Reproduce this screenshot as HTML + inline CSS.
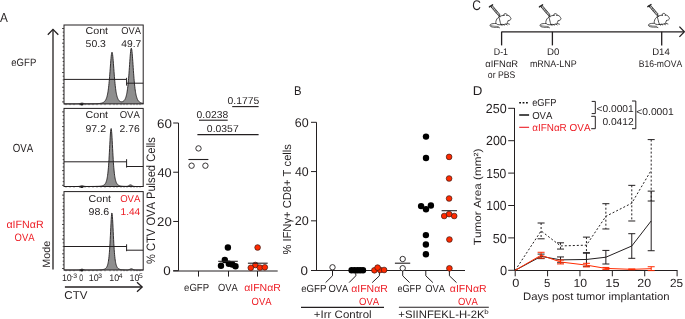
<!DOCTYPE html>
<html><head><meta charset="utf-8"><style>
html,body{margin:0;padding:0;background:#fff;}
svg{display:block;will-change:transform;font-family:"Liberation Sans",sans-serif;font-kerning:none;text-rendering:geometricPrecision;}
text{font-kerning:none;}
</style></head><body>
<svg width="685" height="319" viewBox="0 0 685 319">
<rect width="685" height="319" fill="#fff"/>
<text x="-0.02" y="21.90" font-size="13.20" fill="#231f20" textLength="7.85" lengthAdjust="spacingAndGlyphs">A</text>
<text x="11.29" y="66.10" font-size="10.60" fill="#231f20" textLength="25.01" lengthAdjust="spacingAndGlyphs">eGFP</text>
<text x="12.74" y="152.40" font-size="11.80" fill="#231f20" textLength="20.48" lengthAdjust="spacingAndGlyphs">OVA</text>
<text x="6.45" y="228.20" font-size="10.70" fill="#ed1c24" textLength="37.24" lengthAdjust="spacingAndGlyphs">αIFNαR</text>
<text x="14.55" y="241.30" font-size="10.70" fill="#ed1c24" textLength="19.97" lengthAdjust="spacingAndGlyphs">OVA</text>
<text transform="translate(49.50,267.00) rotate(-90)" x="-0.89" y="0" font-size="10.60" fill="#231f20" textLength="27.07" lengthAdjust="spacingAndGlyphs">Mode</text>
<line x1="53" y1="29.5" x2="53" y2="269.5" stroke="#231f20" stroke-width="1.3"/>
<path d="M47.8,34.8 L53,29.4 L58.3,34.8" stroke="#231f20" stroke-width="1.3" fill="none"/>
<path d="M64.00,103.9 L64.00,103.90 L64.20,103.90 L64.40,103.90 L64.60,103.90 L64.80,103.90 L65.00,103.90 L65.20,103.90 L65.40,103.90 L65.60,103.90 L65.80,103.90 L66.00,103.90 L66.20,103.90 L66.40,103.90 L66.60,103.90 L66.80,103.90 L67.00,103.90 L67.20,103.90 L67.40,103.90 L67.60,103.90 L67.80,103.90 L68.00,103.90 L68.20,103.90 L68.40,103.90 L68.60,103.90 L68.80,103.90 L69.00,103.90 L69.20,103.90 L69.40,103.90 L69.60,103.90 L69.80,103.90 L70.00,103.90 L70.20,103.90 L70.40,103.90 L70.60,103.90 L70.80,103.89 L71.00,103.89 L71.20,103.89 L71.40,103.89 L71.60,103.89 L71.80,103.89 L72.00,103.89 L72.20,103.89 L72.40,103.89 L72.60,103.89 L72.80,103.89 L73.00,103.89 L73.20,103.89 L73.40,103.89 L73.60,103.89 L73.80,103.89 L74.00,103.89 L74.20,103.89 L74.40,103.89 L74.60,103.89 L74.80,103.89 L75.00,103.89 L75.20,103.89 L75.40,103.89 L75.60,103.89 L75.80,103.89 L76.00,103.89 L76.20,103.89 L76.40,103.89 L76.60,103.89 L76.80,103.89 L77.00,103.89 L77.20,103.89 L77.40,103.88 L77.60,103.88 L77.80,103.87 L78.00,103.87 L78.20,103.86 L78.40,103.84 L78.60,103.83 L78.80,103.81 L79.00,103.78 L79.20,103.75 L79.40,103.71 L79.60,103.67 L79.80,103.61 L80.00,103.56 L80.20,103.50 L80.40,103.43 L80.60,103.37 L80.80,103.30 L81.00,103.24 L81.20,103.19 L81.40,103.15 L81.60,103.11 L81.80,103.09 L82.00,103.08 L82.20,103.09 L82.40,103.11 L82.60,103.14 L82.80,103.19 L83.00,103.24 L83.20,103.30 L83.40,103.36 L83.60,103.43 L83.80,103.49 L84.00,103.55 L84.20,103.61 L84.40,103.66 L84.60,103.70 L84.80,103.74 L85.00,103.77 L85.20,103.79 L85.40,103.81 L85.60,103.83 L85.80,103.84 L86.00,103.85 L86.20,103.86 L86.40,103.86 L86.60,103.86 L86.80,103.86 L87.00,103.86 L87.20,103.86 L87.40,103.86 L87.60,103.86 L87.80,103.86 L88.00,103.86 L88.20,103.86 L88.40,103.86 L88.60,103.86 L88.80,103.86 L89.00,103.86 L89.20,103.85 L89.40,103.85 L89.60,103.85 L89.80,103.85 L90.00,103.85 L90.20,103.85 L90.40,103.84 L90.60,103.84 L90.80,103.84 L91.00,103.84 L91.20,103.84 L91.40,103.83 L91.60,103.83 L91.80,103.83 L92.00,103.83 L92.20,103.82 L92.40,103.82 L92.60,103.82 L92.80,103.81 L93.00,103.81 L93.20,103.81 L93.40,103.80 L93.60,103.80 L93.80,103.79 L94.00,103.79 L94.20,103.79 L94.40,103.78 L94.60,103.77 L94.80,103.77 L95.00,103.76 L95.20,103.76 L95.40,103.75 L95.60,103.74 L95.80,103.74 L96.00,103.73 L96.20,103.72 L96.40,103.71 L96.60,103.70 L96.80,103.69 L97.00,103.68 L97.20,103.67 L97.40,103.66 L97.60,103.65 L97.80,103.64 L98.00,103.62 L98.20,103.61 L98.40,103.59 L98.60,103.57 L98.80,103.56 L99.00,103.54 L99.20,103.52 L99.40,103.49 L99.60,103.47 L99.80,103.44 L100.00,103.42 L100.20,103.39 L100.40,103.35 L100.60,103.32 L100.80,103.28 L101.00,103.24 L101.20,103.20 L101.40,103.15 L101.60,103.10 L101.80,103.04 L102.00,102.98 L102.20,102.92 L102.40,102.85 L102.60,102.77 L102.80,102.68 L103.00,102.59 L103.20,102.49 L103.40,102.38 L103.60,102.26 L103.80,102.12 L104.00,101.98 L104.20,101.81 L104.40,101.63 L104.60,101.44 L104.80,101.22 L105.00,100.98 L105.20,100.71 L105.40,100.42 L105.60,100.09 L105.80,99.72 L106.00,99.32 L106.20,98.87 L106.40,98.36 L106.60,97.80 L106.80,97.18 L107.00,96.48 L107.20,95.70 L107.40,94.84 L107.60,93.87 L107.80,92.80 L108.00,91.60 L108.20,90.28 L108.40,88.81 L108.60,87.20 L108.80,85.42 L109.00,83.48 L109.20,81.38 L109.40,79.12 L109.60,76.70 L109.80,74.15 L110.00,71.49 L110.20,68.77 L110.40,66.03 L110.60,63.34 L110.80,60.77 L111.00,58.40 L111.20,56.31 L111.40,54.58 L111.60,53.29 L111.80,52.49 L112.00,52.21 L112.20,52.48 L112.40,53.28 L112.60,54.56 L112.80,56.28 L113.00,58.37 L113.20,60.73 L113.40,63.29 L113.60,65.98 L113.80,68.71 L114.00,71.42 L114.20,74.07 L114.40,76.61 L114.60,79.02 L114.80,81.28 L115.00,83.37 L115.20,85.30 L115.40,87.06 L115.60,88.67 L115.80,90.12 L116.00,91.44 L116.20,92.62 L116.40,93.68 L116.60,94.64 L116.80,95.49 L117.00,96.25 L117.20,96.93 L117.40,97.54 L117.60,98.08 L117.80,98.57 L118.00,99.00 L118.20,99.38 L118.40,99.73 L118.60,100.03 L118.80,100.30 L119.00,100.54 L119.20,100.75 L119.40,100.94 L119.60,101.10 L119.80,101.24 L120.00,101.37 L120.20,101.47 L120.40,101.56 L120.60,101.63 L120.80,101.69 L121.00,101.74 L121.20,101.77 L121.40,101.78 L121.60,101.79 L121.80,101.78 L122.00,101.76 L122.20,101.72 L122.40,101.67 L122.60,101.61 L122.80,101.53 L123.00,101.44 L123.20,101.33 L123.40,101.20 L123.60,101.05 L123.80,100.88 L124.00,100.69 L124.20,100.47 L124.40,100.22 L124.60,99.94 L124.80,99.63 L125.00,99.28 L125.20,98.89 L125.40,98.44 L125.60,97.95 L125.80,97.39 L126.00,96.77 L126.20,96.08 L126.40,95.30 L126.60,94.43 L126.80,93.45 L127.00,92.37 L127.20,91.16 L127.40,89.81 L127.60,88.32 L127.80,86.67 L128.00,84.86 L128.20,82.87 L128.40,80.70 L128.60,78.35 L128.80,75.83 L129.00,73.16 L129.20,70.36 L129.40,67.47 L129.60,64.52 L129.80,61.60 L130.00,58.76 L130.20,56.09 L130.40,53.68 L130.60,51.62 L130.80,50.00 L131.00,48.87 L131.20,48.29 L131.40,48.30 L131.60,48.88 L131.80,50.01 L132.00,51.65 L132.20,53.71 L132.40,56.13 L132.60,58.80 L132.80,61.65 L133.00,64.58 L133.20,67.53 L133.40,70.43 L133.60,73.24 L133.80,75.92 L134.00,78.44 L134.20,80.80 L134.40,82.98 L134.60,84.97 L134.80,86.80 L135.00,88.46 L135.20,89.96 L135.40,91.32 L135.60,92.54 L135.80,93.64 L136.00,94.62 L136.20,95.50 L136.40,96.30 L136.60,97.01 L136.80,97.65 L137.00,98.22 L137.20,98.73 L137.40,99.19 L137.60,99.61 L137.80,99.98 L138.00,100.31 L138.20,100.62 L138.40,100.89 L138.60,101.14 L138.80,101.36 L139.00,101.56 L139.20,101.74 L139.40,101.91 L139.60,102.06 L139.80,102.20 L140.00,102.32 L140.20,102.44 L140.40,102.54 L140.60,102.64 L140.80,102.73 L141.00,102.81 L141.20,102.88 L141.40,102.95 L141.60,103.01 L141.80,103.07 L142.00,103.12 L142.20,103.17 L142.40,103.22 L142.60,103.26 L142.80,103.30 L143.00,103.33 L143.20,103.36 L143.20,103.9 Z" fill="#8e8e8e" stroke="none"/>
<path d="M64.00,103.90 L64.20,103.90 L64.40,103.90 L64.60,103.90 L64.80,103.90 L65.00,103.90 L65.20,103.90 L65.40,103.90 L65.60,103.90 L65.80,103.90 L66.00,103.90 L66.20,103.90 L66.40,103.90 L66.60,103.90 L66.80,103.90 L67.00,103.90 L67.20,103.90 L67.40,103.90 L67.60,103.90 L67.80,103.90 L68.00,103.90 L68.20,103.90 L68.40,103.90 L68.60,103.90 L68.80,103.90 L69.00,103.90 L69.20,103.90 L69.40,103.90 L69.60,103.90 L69.80,103.90 L70.00,103.90 L70.20,103.90 L70.40,103.90 L70.60,103.90 L70.80,103.89 L71.00,103.89 L71.20,103.89 L71.40,103.89 L71.60,103.89 L71.80,103.89 L72.00,103.89 L72.20,103.89 L72.40,103.89 L72.60,103.89 L72.80,103.89 L73.00,103.89 L73.20,103.89 L73.40,103.89 L73.60,103.89 L73.80,103.89 L74.00,103.89 L74.20,103.89 L74.40,103.89 L74.60,103.89 L74.80,103.89 L75.00,103.89 L75.20,103.89 L75.40,103.89 L75.60,103.89 L75.80,103.89 L76.00,103.89 L76.20,103.89 L76.40,103.89 L76.60,103.89 L76.80,103.89 L77.00,103.89 L77.20,103.89 L77.40,103.88 L77.60,103.88 L77.80,103.87 L78.00,103.87 L78.20,103.86 L78.40,103.84 L78.60,103.83 L78.80,103.81 L79.00,103.78 L79.20,103.75 L79.40,103.71 L79.60,103.67 L79.80,103.61 L80.00,103.56 L80.20,103.50 L80.40,103.43 L80.60,103.37 L80.80,103.30 L81.00,103.24 L81.20,103.19 L81.40,103.15 L81.60,103.11 L81.80,103.09 L82.00,103.08 L82.20,103.09 L82.40,103.11 L82.60,103.14 L82.80,103.19 L83.00,103.24 L83.20,103.30 L83.40,103.36 L83.60,103.43 L83.80,103.49 L84.00,103.55 L84.20,103.61 L84.40,103.66 L84.60,103.70 L84.80,103.74 L85.00,103.77 L85.20,103.79 L85.40,103.81 L85.60,103.83 L85.80,103.84 L86.00,103.85 L86.20,103.86 L86.40,103.86 L86.60,103.86 L86.80,103.86 L87.00,103.86 L87.20,103.86 L87.40,103.86 L87.60,103.86 L87.80,103.86 L88.00,103.86 L88.20,103.86 L88.40,103.86 L88.60,103.86 L88.80,103.86 L89.00,103.86 L89.20,103.85 L89.40,103.85 L89.60,103.85 L89.80,103.85 L90.00,103.85 L90.20,103.85 L90.40,103.84 L90.60,103.84 L90.80,103.84 L91.00,103.84 L91.20,103.84 L91.40,103.83 L91.60,103.83 L91.80,103.83 L92.00,103.83 L92.20,103.82 L92.40,103.82 L92.60,103.82 L92.80,103.81 L93.00,103.81 L93.20,103.81 L93.40,103.80 L93.60,103.80 L93.80,103.79 L94.00,103.79 L94.20,103.79 L94.40,103.78 L94.60,103.77 L94.80,103.77 L95.00,103.76 L95.20,103.76 L95.40,103.75 L95.60,103.74 L95.80,103.74 L96.00,103.73 L96.20,103.72 L96.40,103.71 L96.60,103.70 L96.80,103.69 L97.00,103.68 L97.20,103.67 L97.40,103.66 L97.60,103.65 L97.80,103.64 L98.00,103.62 L98.20,103.61 L98.40,103.59 L98.60,103.57 L98.80,103.56 L99.00,103.54 L99.20,103.52 L99.40,103.49 L99.60,103.47 L99.80,103.44 L100.00,103.42 L100.20,103.39 L100.40,103.35 L100.60,103.32 L100.80,103.28 L101.00,103.24 L101.20,103.20 L101.40,103.15 L101.60,103.10 L101.80,103.04 L102.00,102.98 L102.20,102.92 L102.40,102.85 L102.60,102.77 L102.80,102.68 L103.00,102.59 L103.20,102.49 L103.40,102.38 L103.60,102.26 L103.80,102.12 L104.00,101.98 L104.20,101.81 L104.40,101.63 L104.60,101.44 L104.80,101.22 L105.00,100.98 L105.20,100.71 L105.40,100.42 L105.60,100.09 L105.80,99.72 L106.00,99.32 L106.20,98.87 L106.40,98.36 L106.60,97.80 L106.80,97.18 L107.00,96.48 L107.20,95.70 L107.40,94.84 L107.60,93.87 L107.80,92.80 L108.00,91.60 L108.20,90.28 L108.40,88.81 L108.60,87.20 L108.80,85.42 L109.00,83.48 L109.20,81.38 L109.40,79.12 L109.60,76.70 L109.80,74.15 L110.00,71.49 L110.20,68.77 L110.40,66.03 L110.60,63.34 L110.80,60.77 L111.00,58.40 L111.20,56.31 L111.40,54.58 L111.60,53.29 L111.80,52.49 L112.00,52.21 L112.20,52.48 L112.40,53.28 L112.60,54.56 L112.80,56.28 L113.00,58.37 L113.20,60.73 L113.40,63.29 L113.60,65.98 L113.80,68.71 L114.00,71.42 L114.20,74.07 L114.40,76.61 L114.60,79.02 L114.80,81.28 L115.00,83.37 L115.20,85.30 L115.40,87.06 L115.60,88.67 L115.80,90.12 L116.00,91.44 L116.20,92.62 L116.40,93.68 L116.60,94.64 L116.80,95.49 L117.00,96.25 L117.20,96.93 L117.40,97.54 L117.60,98.08 L117.80,98.57 L118.00,99.00 L118.20,99.38 L118.40,99.73 L118.60,100.03 L118.80,100.30 L119.00,100.54 L119.20,100.75 L119.40,100.94 L119.60,101.10 L119.80,101.24 L120.00,101.37 L120.20,101.47 L120.40,101.56 L120.60,101.63 L120.80,101.69 L121.00,101.74 L121.20,101.77 L121.40,101.78 L121.60,101.79 L121.80,101.78 L122.00,101.76 L122.20,101.72 L122.40,101.67 L122.60,101.61 L122.80,101.53 L123.00,101.44 L123.20,101.33 L123.40,101.20 L123.60,101.05 L123.80,100.88 L124.00,100.69 L124.20,100.47 L124.40,100.22 L124.60,99.94 L124.80,99.63 L125.00,99.28 L125.20,98.89 L125.40,98.44 L125.60,97.95 L125.80,97.39 L126.00,96.77 L126.20,96.08 L126.40,95.30 L126.60,94.43 L126.80,93.45 L127.00,92.37 L127.20,91.16 L127.40,89.81 L127.60,88.32 L127.80,86.67 L128.00,84.86 L128.20,82.87 L128.40,80.70 L128.60,78.35 L128.80,75.83 L129.00,73.16 L129.20,70.36 L129.40,67.47 L129.60,64.52 L129.80,61.60 L130.00,58.76 L130.20,56.09 L130.40,53.68 L130.60,51.62 L130.80,50.00 L131.00,48.87 L131.20,48.29 L131.40,48.30 L131.60,48.88 L131.80,50.01 L132.00,51.65 L132.20,53.71 L132.40,56.13 L132.60,58.80 L132.80,61.65 L133.00,64.58 L133.20,67.53 L133.40,70.43 L133.60,73.24 L133.80,75.92 L134.00,78.44 L134.20,80.80 L134.40,82.98 L134.60,84.97 L134.80,86.80 L135.00,88.46 L135.20,89.96 L135.40,91.32 L135.60,92.54 L135.80,93.64 L136.00,94.62 L136.20,95.50 L136.40,96.30 L136.60,97.01 L136.80,97.65 L137.00,98.22 L137.20,98.73 L137.40,99.19 L137.60,99.61 L137.80,99.98 L138.00,100.31 L138.20,100.62 L138.40,100.89 L138.60,101.14 L138.80,101.36 L139.00,101.56 L139.20,101.74 L139.40,101.91 L139.60,102.06 L139.80,102.20 L140.00,102.32 L140.20,102.44 L140.40,102.54 L140.60,102.64 L140.80,102.73 L141.00,102.81 L141.20,102.88 L141.40,102.95 L141.60,103.01 L141.80,103.07 L142.00,103.12 L142.20,103.17 L142.40,103.22 L142.60,103.26 L142.80,103.30 L143.00,103.33 L143.20,103.36" fill="none" stroke="#231f20" stroke-width="0.9"/>
<path d="M64.00,186.5 L64.00,186.50 L64.20,186.50 L64.40,186.50 L64.60,186.50 L64.80,186.50 L65.00,186.50 L65.20,186.50 L65.40,186.50 L65.60,186.50 L65.80,186.50 L66.00,186.50 L66.20,186.50 L66.40,186.50 L66.60,186.50 L66.80,186.50 L67.00,186.50 L67.20,186.50 L67.40,186.50 L67.60,186.50 L67.80,186.50 L68.00,186.50 L68.20,186.50 L68.40,186.50 L68.60,186.50 L68.80,186.50 L69.00,186.50 L69.20,186.50 L69.40,186.50 L69.60,186.50 L69.80,186.50 L70.00,186.50 L70.20,186.50 L70.40,186.50 L70.60,186.50 L70.80,186.50 L71.00,186.50 L71.20,186.50 L71.40,186.50 L71.60,186.50 L71.80,186.50 L72.00,186.50 L72.20,186.50 L72.40,186.50 L72.60,186.50 L72.80,186.50 L73.00,186.50 L73.20,186.50 L73.40,186.50 L73.60,186.50 L73.80,186.50 L74.00,186.50 L74.20,186.50 L74.40,186.50 L74.60,186.50 L74.80,186.50 L75.00,186.50 L75.20,186.50 L75.40,186.50 L75.60,186.50 L75.80,186.50 L76.00,186.50 L76.20,186.50 L76.40,186.50 L76.60,186.50 L76.80,186.49 L77.00,186.49 L77.20,186.49 L77.40,186.49 L77.60,186.48 L77.80,186.48 L78.00,186.47 L78.20,186.46 L78.40,186.45 L78.60,186.43 L78.80,186.41 L79.00,186.39 L79.20,186.35 L79.40,186.32 L79.60,186.27 L79.80,186.22 L80.00,186.17 L80.20,186.10 L80.40,186.04 L80.60,185.98 L80.80,185.91 L81.00,185.85 L81.20,185.80 L81.40,185.75 L81.60,185.72 L81.80,185.70 L82.00,185.69 L82.20,185.70 L82.40,185.72 L82.60,185.75 L82.80,185.80 L83.00,185.85 L83.20,185.91 L83.40,185.97 L83.60,186.04 L83.80,186.10 L84.00,186.16 L84.20,186.22 L84.40,186.27 L84.60,186.31 L84.80,186.35 L85.00,186.38 L85.20,186.41 L85.40,186.43 L85.60,186.44 L85.80,186.45 L86.00,186.46 L86.20,186.47 L86.40,186.48 L86.60,186.48 L86.80,186.48 L87.00,186.48 L87.20,186.48 L87.40,186.48 L87.60,186.48 L87.80,186.48 L88.00,186.48 L88.20,186.48 L88.40,186.48 L88.60,186.48 L88.80,186.48 L89.00,186.48 L89.20,186.48 L89.40,186.48 L89.60,186.48 L89.80,186.48 L90.00,186.47 L90.20,186.47 L90.40,186.47 L90.60,186.47 L90.80,186.47 L91.00,186.47 L91.20,186.47 L91.40,186.47 L91.60,186.46 L91.80,186.46 L92.00,186.46 L92.20,186.46 L92.40,186.46 L92.60,186.46 L92.80,186.45 L93.00,186.45 L93.20,186.45 L93.40,186.45 L93.60,186.45 L93.80,186.44 L94.00,186.44 L94.20,186.44 L94.40,186.44 L94.60,186.43 L94.80,186.43 L95.00,186.43 L95.20,186.42 L95.40,186.42 L95.60,186.41 L95.80,186.41 L96.00,186.41 L96.20,186.40 L96.40,186.39 L96.60,186.39 L96.80,186.38 L97.00,186.38 L97.20,186.37 L97.40,186.36 L97.60,186.35 L97.80,186.35 L98.00,186.34 L98.20,186.33 L98.40,186.32 L98.60,186.31 L98.80,186.29 L99.00,186.28 L99.20,186.27 L99.40,186.25 L99.60,186.23 L99.80,186.22 L100.00,186.20 L100.20,186.18 L100.40,186.15 L100.60,186.13 L100.80,186.10 L101.00,186.07 L101.20,186.04 L101.40,186.00 L101.60,185.96 L101.80,185.92 L102.00,185.87 L102.20,185.82 L102.40,185.76 L102.60,185.70 L102.80,185.63 L103.00,185.55 L103.20,185.47 L103.40,185.37 L103.60,185.27 L103.80,185.15 L104.00,185.01 L104.20,184.86 L104.40,184.70 L104.60,184.51 L104.80,184.30 L105.00,184.06 L105.20,183.79 L105.40,183.48 L105.60,183.13 L105.80,182.73 L106.00,182.28 L106.20,181.76 L106.40,181.17 L106.60,180.49 L106.80,179.72 L107.00,178.83 L107.20,177.80 L107.40,176.63 L107.60,175.29 L107.80,173.75 L108.00,172.00 L108.20,170.00 L108.40,167.75 L108.60,165.21 L108.80,162.37 L109.00,159.25 L109.20,155.85 L109.40,152.22 L109.60,148.42 L109.80,144.55 L110.00,140.75 L110.20,137.17 L110.40,133.99 L110.60,131.40 L110.80,129.57 L111.00,128.62 L111.20,128.62 L111.40,129.57 L111.60,131.40 L111.80,133.99 L112.00,137.17 L112.20,140.75 L112.40,144.55 L112.60,148.42 L112.80,152.22 L113.00,155.85 L113.20,159.25 L113.40,162.37 L113.60,165.21 L113.80,167.75 L114.00,170.00 L114.20,172.00 L114.40,173.75 L114.60,175.29 L114.80,176.63 L115.00,177.80 L115.20,178.83 L115.40,179.72 L115.60,180.49 L115.80,181.17 L116.00,181.76 L116.20,182.28 L116.40,182.73 L116.60,183.13 L116.80,183.48 L117.00,183.79 L117.20,184.06 L117.40,184.30 L117.60,184.51 L117.80,184.70 L118.00,184.86 L118.20,185.01 L118.40,185.15 L118.60,185.27 L118.80,185.37 L119.00,185.47 L119.20,185.55 L119.40,185.63 L119.60,185.70 L119.80,185.76 L120.00,185.82 L120.20,185.87 L120.40,185.92 L120.60,185.96 L120.80,186.00 L121.00,186.04 L121.20,186.07 L121.40,186.10 L121.60,186.13 L121.80,186.15 L122.00,186.18 L122.20,186.20 L122.40,186.22 L122.60,186.23 L122.80,186.25 L123.00,186.27 L123.20,186.28 L123.40,186.29 L123.60,186.31 L123.80,186.32 L124.00,186.33 L124.20,186.34 L124.40,186.35 L124.60,186.35 L124.80,186.36 L125.00,186.37 L125.20,186.37 L125.40,186.38 L125.60,186.38 L125.80,186.38 L126.00,186.38 L126.20,186.38 L126.40,186.37 L126.60,186.36 L126.80,186.34 L127.00,186.32 L127.20,186.28 L127.40,186.24 L127.60,186.19 L127.80,186.12 L128.00,186.04 L128.20,185.95 L128.40,185.84 L128.60,185.73 L128.80,185.61 L129.00,185.48 L129.20,185.35 L129.40,185.23 L129.60,185.12 L129.80,185.02 L130.00,184.95 L130.20,184.89 L130.40,184.87 L130.60,184.87 L130.80,184.90 L131.00,184.95 L131.20,185.03 L131.40,185.13 L131.60,185.25 L131.80,185.37 L132.00,185.50 L132.20,185.63 L132.40,185.76 L132.60,185.88 L132.80,185.98 L133.00,186.08 L133.20,186.16 L133.40,186.23 L133.60,186.29 L133.80,186.34 L134.00,186.38 L134.20,186.41 L134.40,186.43 L134.60,186.44 L134.80,186.46 L135.00,186.47 L135.20,186.47 L135.40,186.48 L135.60,186.48 L135.80,186.48 L136.00,186.48 L136.20,186.49 L136.40,186.49 L136.60,186.49 L136.80,186.49 L137.00,186.49 L137.20,186.49 L137.40,186.49 L137.60,186.49 L137.80,186.49 L138.00,186.49 L138.20,186.49 L138.40,186.49 L138.60,186.49 L138.80,186.49 L139.00,186.49 L139.20,186.49 L139.40,186.49 L139.60,186.49 L139.80,186.49 L140.00,186.49 L140.20,186.49 L140.40,186.49 L140.60,186.49 L140.80,186.49 L141.00,186.49 L141.20,186.49 L141.40,186.49 L141.60,186.49 L141.80,186.49 L142.00,186.49 L142.20,186.49 L142.40,186.49 L142.60,186.49 L142.80,186.49 L143.00,186.49 L143.20,186.50 L143.20,186.5 Z" fill="#8e8e8e" stroke="none"/>
<path d="M64.00,186.50 L64.20,186.50 L64.40,186.50 L64.60,186.50 L64.80,186.50 L65.00,186.50 L65.20,186.50 L65.40,186.50 L65.60,186.50 L65.80,186.50 L66.00,186.50 L66.20,186.50 L66.40,186.50 L66.60,186.50 L66.80,186.50 L67.00,186.50 L67.20,186.50 L67.40,186.50 L67.60,186.50 L67.80,186.50 L68.00,186.50 L68.20,186.50 L68.40,186.50 L68.60,186.50 L68.80,186.50 L69.00,186.50 L69.20,186.50 L69.40,186.50 L69.60,186.50 L69.80,186.50 L70.00,186.50 L70.20,186.50 L70.40,186.50 L70.60,186.50 L70.80,186.50 L71.00,186.50 L71.20,186.50 L71.40,186.50 L71.60,186.50 L71.80,186.50 L72.00,186.50 L72.20,186.50 L72.40,186.50 L72.60,186.50 L72.80,186.50 L73.00,186.50 L73.20,186.50 L73.40,186.50 L73.60,186.50 L73.80,186.50 L74.00,186.50 L74.20,186.50 L74.40,186.50 L74.60,186.50 L74.80,186.50 L75.00,186.50 L75.20,186.50 L75.40,186.50 L75.60,186.50 L75.80,186.50 L76.00,186.50 L76.20,186.50 L76.40,186.50 L76.60,186.50 L76.80,186.49 L77.00,186.49 L77.20,186.49 L77.40,186.49 L77.60,186.48 L77.80,186.48 L78.00,186.47 L78.20,186.46 L78.40,186.45 L78.60,186.43 L78.80,186.41 L79.00,186.39 L79.20,186.35 L79.40,186.32 L79.60,186.27 L79.80,186.22 L80.00,186.17 L80.20,186.10 L80.40,186.04 L80.60,185.98 L80.80,185.91 L81.00,185.85 L81.20,185.80 L81.40,185.75 L81.60,185.72 L81.80,185.70 L82.00,185.69 L82.20,185.70 L82.40,185.72 L82.60,185.75 L82.80,185.80 L83.00,185.85 L83.20,185.91 L83.40,185.97 L83.60,186.04 L83.80,186.10 L84.00,186.16 L84.20,186.22 L84.40,186.27 L84.60,186.31 L84.80,186.35 L85.00,186.38 L85.20,186.41 L85.40,186.43 L85.60,186.44 L85.80,186.45 L86.00,186.46 L86.20,186.47 L86.40,186.48 L86.60,186.48 L86.80,186.48 L87.00,186.48 L87.20,186.48 L87.40,186.48 L87.60,186.48 L87.80,186.48 L88.00,186.48 L88.20,186.48 L88.40,186.48 L88.60,186.48 L88.80,186.48 L89.00,186.48 L89.20,186.48 L89.40,186.48 L89.60,186.48 L89.80,186.48 L90.00,186.47 L90.20,186.47 L90.40,186.47 L90.60,186.47 L90.80,186.47 L91.00,186.47 L91.20,186.47 L91.40,186.47 L91.60,186.46 L91.80,186.46 L92.00,186.46 L92.20,186.46 L92.40,186.46 L92.60,186.46 L92.80,186.45 L93.00,186.45 L93.20,186.45 L93.40,186.45 L93.60,186.45 L93.80,186.44 L94.00,186.44 L94.20,186.44 L94.40,186.44 L94.60,186.43 L94.80,186.43 L95.00,186.43 L95.20,186.42 L95.40,186.42 L95.60,186.41 L95.80,186.41 L96.00,186.41 L96.20,186.40 L96.40,186.39 L96.60,186.39 L96.80,186.38 L97.00,186.38 L97.20,186.37 L97.40,186.36 L97.60,186.35 L97.80,186.35 L98.00,186.34 L98.20,186.33 L98.40,186.32 L98.60,186.31 L98.80,186.29 L99.00,186.28 L99.20,186.27 L99.40,186.25 L99.60,186.23 L99.80,186.22 L100.00,186.20 L100.20,186.18 L100.40,186.15 L100.60,186.13 L100.80,186.10 L101.00,186.07 L101.20,186.04 L101.40,186.00 L101.60,185.96 L101.80,185.92 L102.00,185.87 L102.20,185.82 L102.40,185.76 L102.60,185.70 L102.80,185.63 L103.00,185.55 L103.20,185.47 L103.40,185.37 L103.60,185.27 L103.80,185.15 L104.00,185.01 L104.20,184.86 L104.40,184.70 L104.60,184.51 L104.80,184.30 L105.00,184.06 L105.20,183.79 L105.40,183.48 L105.60,183.13 L105.80,182.73 L106.00,182.28 L106.20,181.76 L106.40,181.17 L106.60,180.49 L106.80,179.72 L107.00,178.83 L107.20,177.80 L107.40,176.63 L107.60,175.29 L107.80,173.75 L108.00,172.00 L108.20,170.00 L108.40,167.75 L108.60,165.21 L108.80,162.37 L109.00,159.25 L109.20,155.85 L109.40,152.22 L109.60,148.42 L109.80,144.55 L110.00,140.75 L110.20,137.17 L110.40,133.99 L110.60,131.40 L110.80,129.57 L111.00,128.62 L111.20,128.62 L111.40,129.57 L111.60,131.40 L111.80,133.99 L112.00,137.17 L112.20,140.75 L112.40,144.55 L112.60,148.42 L112.80,152.22 L113.00,155.85 L113.20,159.25 L113.40,162.37 L113.60,165.21 L113.80,167.75 L114.00,170.00 L114.20,172.00 L114.40,173.75 L114.60,175.29 L114.80,176.63 L115.00,177.80 L115.20,178.83 L115.40,179.72 L115.60,180.49 L115.80,181.17 L116.00,181.76 L116.20,182.28 L116.40,182.73 L116.60,183.13 L116.80,183.48 L117.00,183.79 L117.20,184.06 L117.40,184.30 L117.60,184.51 L117.80,184.70 L118.00,184.86 L118.20,185.01 L118.40,185.15 L118.60,185.27 L118.80,185.37 L119.00,185.47 L119.20,185.55 L119.40,185.63 L119.60,185.70 L119.80,185.76 L120.00,185.82 L120.20,185.87 L120.40,185.92 L120.60,185.96 L120.80,186.00 L121.00,186.04 L121.20,186.07 L121.40,186.10 L121.60,186.13 L121.80,186.15 L122.00,186.18 L122.20,186.20 L122.40,186.22 L122.60,186.23 L122.80,186.25 L123.00,186.27 L123.20,186.28 L123.40,186.29 L123.60,186.31 L123.80,186.32 L124.00,186.33 L124.20,186.34 L124.40,186.35 L124.60,186.35 L124.80,186.36 L125.00,186.37 L125.20,186.37 L125.40,186.38 L125.60,186.38 L125.80,186.38 L126.00,186.38 L126.20,186.38 L126.40,186.37 L126.60,186.36 L126.80,186.34 L127.00,186.32 L127.20,186.28 L127.40,186.24 L127.60,186.19 L127.80,186.12 L128.00,186.04 L128.20,185.95 L128.40,185.84 L128.60,185.73 L128.80,185.61 L129.00,185.48 L129.20,185.35 L129.40,185.23 L129.60,185.12 L129.80,185.02 L130.00,184.95 L130.20,184.89 L130.40,184.87 L130.60,184.87 L130.80,184.90 L131.00,184.95 L131.20,185.03 L131.40,185.13 L131.60,185.25 L131.80,185.37 L132.00,185.50 L132.20,185.63 L132.40,185.76 L132.60,185.88 L132.80,185.98 L133.00,186.08 L133.20,186.16 L133.40,186.23 L133.60,186.29 L133.80,186.34 L134.00,186.38 L134.20,186.41 L134.40,186.43 L134.60,186.44 L134.80,186.46 L135.00,186.47 L135.20,186.47 L135.40,186.48 L135.60,186.48 L135.80,186.48 L136.00,186.48 L136.20,186.49 L136.40,186.49 L136.60,186.49 L136.80,186.49 L137.00,186.49 L137.20,186.49 L137.40,186.49 L137.60,186.49 L137.80,186.49 L138.00,186.49 L138.20,186.49 L138.40,186.49 L138.60,186.49 L138.80,186.49 L139.00,186.49 L139.20,186.49 L139.40,186.49 L139.60,186.49 L139.80,186.49 L140.00,186.49 L140.20,186.49 L140.40,186.49 L140.60,186.49 L140.80,186.49 L141.00,186.49 L141.20,186.49 L141.40,186.49 L141.60,186.49 L141.80,186.49 L142.00,186.49 L142.20,186.49 L142.40,186.49 L142.60,186.49 L142.80,186.49 L143.00,186.49 L143.20,186.50" fill="none" stroke="#231f20" stroke-width="0.9"/>
<path d="M64.00,270.0 L64.00,270.00 L64.20,270.00 L64.40,270.00 L64.60,270.00 L64.80,270.00 L65.00,270.00 L65.20,270.00 L65.40,270.00 L65.60,270.00 L65.80,270.00 L66.00,270.00 L66.20,270.00 L66.40,270.00 L66.60,270.00 L66.80,270.00 L67.00,270.00 L67.20,270.00 L67.40,270.00 L67.60,270.00 L67.80,270.00 L68.00,270.00 L68.20,270.00 L68.40,270.00 L68.60,270.00 L68.80,270.00 L69.00,270.00 L69.20,270.00 L69.40,270.00 L69.60,270.00 L69.80,270.00 L70.00,270.00 L70.20,270.00 L70.40,270.00 L70.60,270.00 L70.80,270.00 L71.00,270.00 L71.20,270.00 L71.40,270.00 L71.60,270.00 L71.80,270.00 L72.00,270.00 L72.20,270.00 L72.40,270.00 L72.60,270.00 L72.80,270.00 L73.00,270.00 L73.20,270.00 L73.40,270.00 L73.60,270.00 L73.80,270.00 L74.00,270.00 L74.20,270.00 L74.40,270.00 L74.60,270.00 L74.80,270.00 L75.00,270.00 L75.20,270.00 L75.40,270.00 L75.60,270.00 L75.80,270.00 L76.00,270.00 L76.20,270.00 L76.40,270.00 L76.60,270.00 L76.80,270.00 L77.00,269.99 L77.20,269.99 L77.40,269.99 L77.60,269.99 L77.80,269.98 L78.00,269.97 L78.20,269.96 L78.40,269.95 L78.60,269.94 L78.80,269.91 L79.00,269.89 L79.20,269.86 L79.40,269.82 L79.60,269.77 L79.80,269.72 L80.00,269.67 L80.20,269.61 L80.40,269.54 L80.60,269.48 L80.80,269.42 L81.00,269.36 L81.20,269.30 L81.40,269.26 L81.60,269.22 L81.80,269.20 L82.00,269.20 L82.20,269.20 L82.40,269.22 L82.60,269.26 L82.80,269.30 L83.00,269.35 L83.20,269.41 L83.40,269.48 L83.60,269.54 L83.80,269.61 L84.00,269.67 L84.20,269.72 L84.40,269.77 L84.60,269.82 L84.80,269.85 L85.00,269.89 L85.20,269.91 L85.40,269.93 L85.60,269.95 L85.80,269.96 L86.00,269.97 L86.20,269.98 L86.40,269.98 L86.60,269.98 L86.80,269.99 L87.00,269.99 L87.20,269.99 L87.40,269.99 L87.60,269.99 L87.80,269.99 L88.00,269.99 L88.20,269.99 L88.40,269.99 L88.60,269.99 L88.80,269.99 L89.00,269.99 L89.20,269.99 L89.40,269.99 L89.60,269.99 L89.80,269.99 L90.00,269.99 L90.20,269.98 L90.40,269.98 L90.60,269.98 L90.80,269.98 L91.00,269.98 L91.20,269.98 L91.40,269.98 L91.60,269.98 L91.80,269.98 L92.00,269.98 L92.20,269.98 L92.40,269.98 L92.60,269.98 L92.80,269.97 L93.00,269.97 L93.20,269.97 L93.40,269.97 L93.60,269.97 L93.80,269.97 L94.00,269.97 L94.20,269.97 L94.40,269.96 L94.60,269.96 L94.80,269.96 L95.00,269.96 L95.20,269.96 L95.40,269.96 L95.60,269.95 L95.80,269.95 L96.00,269.95 L96.20,269.95 L96.40,269.94 L96.60,269.94 L96.80,269.94 L97.00,269.93 L97.20,269.93 L97.40,269.93 L97.60,269.92 L97.80,269.92 L98.00,269.91 L98.20,269.91 L98.40,269.90 L98.60,269.90 L98.80,269.89 L99.00,269.88 L99.20,269.88 L99.40,269.87 L99.60,269.86 L99.80,269.85 L100.00,269.84 L100.20,269.83 L100.40,269.82 L100.60,269.81 L100.80,269.80 L101.00,269.78 L101.20,269.77 L101.40,269.75 L101.60,269.73 L101.80,269.71 L102.00,269.69 L102.20,269.66 L102.40,269.64 L102.60,269.61 L102.80,269.57 L103.00,269.54 L103.20,269.50 L103.40,269.45 L103.60,269.40 L103.80,269.35 L104.00,269.29 L104.20,269.22 L104.40,269.15 L104.60,269.06 L104.80,268.97 L105.00,268.86 L105.20,268.74 L105.40,268.60 L105.60,268.45 L105.80,268.27 L106.00,268.07 L106.20,267.85 L106.40,267.59 L106.60,267.29 L106.80,266.94 L107.00,266.55 L107.20,266.09 L107.40,265.56 L107.60,264.95 L107.80,264.23 L108.00,263.41 L108.20,262.44 L108.40,261.32 L108.60,260.01 L108.80,258.49 L109.00,256.73 L109.20,254.70 L109.40,252.35 L109.60,249.68 L109.80,246.65 L110.00,243.28 L110.20,239.57 L110.40,235.59 L110.60,231.42 L110.80,227.22 L111.00,223.18 L111.20,219.51 L111.40,216.47 L111.60,214.29 L111.80,213.15 L112.00,213.15 L112.20,214.29 L112.40,216.47 L112.60,219.51 L112.80,223.18 L113.00,227.22 L113.20,231.42 L113.40,235.59 L113.60,239.57 L113.80,243.28 L114.00,246.65 L114.20,249.68 L114.40,252.35 L114.60,254.70 L114.80,256.73 L115.00,258.49 L115.20,260.01 L115.40,261.32 L115.60,262.44 L115.80,263.41 L116.00,264.23 L116.20,264.95 L116.40,265.56 L116.60,266.09 L116.80,266.55 L117.00,266.94 L117.20,267.29 L117.40,267.59 L117.60,267.85 L117.80,268.07 L118.00,268.27 L118.20,268.45 L118.40,268.60 L118.60,268.74 L118.80,268.86 L119.00,268.97 L119.20,269.06 L119.40,269.15 L119.60,269.22 L119.80,269.29 L120.00,269.35 L120.20,269.40 L120.40,269.45 L120.60,269.50 L120.80,269.54 L121.00,269.57 L121.20,269.61 L121.40,269.64 L121.60,269.66 L121.80,269.69 L122.00,269.71 L122.20,269.73 L122.40,269.75 L122.60,269.77 L122.80,269.78 L123.00,269.80 L123.20,269.81 L123.40,269.82 L123.60,269.83 L123.80,269.84 L124.00,269.85 L124.20,269.86 L124.40,269.87 L124.60,269.88 L124.80,269.88 L125.00,269.89 L125.20,269.90 L125.40,269.90 L125.60,269.91 L125.80,269.91 L126.00,269.92 L126.20,269.92 L126.40,269.92 L126.60,269.92 L126.80,269.92 L127.00,269.92 L127.20,269.92 L127.40,269.91 L127.60,269.90 L127.80,269.88 L128.00,269.86 L128.20,269.83 L128.40,269.79 L128.60,269.75 L128.80,269.69 L129.00,269.63 L129.20,269.55 L129.40,269.47 L129.60,269.38 L129.80,269.29 L130.00,269.19 L130.20,269.10 L130.40,269.01 L130.60,268.93 L130.80,268.87 L131.00,268.82 L131.20,268.79 L131.40,268.78 L131.60,268.79 L131.80,268.82 L132.00,268.87 L132.20,268.94 L132.40,269.02 L132.60,269.11 L132.80,269.21 L133.00,269.30 L133.20,269.40 L133.40,269.49 L133.60,269.58 L133.80,269.65 L134.00,269.72 L134.20,269.78 L134.40,269.82 L134.60,269.86 L134.80,269.90 L135.00,269.92 L135.20,269.94 L135.40,269.95 L135.60,269.97 L135.80,269.97 L136.00,269.98 L136.20,269.98 L136.40,269.99 L136.60,269.99 L136.80,269.99 L137.00,269.99 L137.20,269.99 L137.40,269.99 L137.60,269.99 L137.80,269.99 L138.00,269.99 L138.20,269.99 L138.40,269.99 L138.60,269.99 L138.80,269.99 L139.00,269.99 L139.20,269.99 L139.40,269.99 L139.60,269.99 L139.80,269.99 L140.00,269.99 L140.20,269.99 L140.40,269.99 L140.60,269.99 L140.80,270.00 L141.00,270.00 L141.20,270.00 L141.40,270.00 L141.60,270.00 L141.80,270.00 L142.00,270.00 L142.20,270.00 L142.40,270.00 L142.60,270.00 L142.80,270.00 L143.00,270.00 L143.20,270.00 L143.20,270.0 Z" fill="#8e8e8e" stroke="none"/>
<path d="M64.00,270.00 L64.20,270.00 L64.40,270.00 L64.60,270.00 L64.80,270.00 L65.00,270.00 L65.20,270.00 L65.40,270.00 L65.60,270.00 L65.80,270.00 L66.00,270.00 L66.20,270.00 L66.40,270.00 L66.60,270.00 L66.80,270.00 L67.00,270.00 L67.20,270.00 L67.40,270.00 L67.60,270.00 L67.80,270.00 L68.00,270.00 L68.20,270.00 L68.40,270.00 L68.60,270.00 L68.80,270.00 L69.00,270.00 L69.20,270.00 L69.40,270.00 L69.60,270.00 L69.80,270.00 L70.00,270.00 L70.20,270.00 L70.40,270.00 L70.60,270.00 L70.80,270.00 L71.00,270.00 L71.20,270.00 L71.40,270.00 L71.60,270.00 L71.80,270.00 L72.00,270.00 L72.20,270.00 L72.40,270.00 L72.60,270.00 L72.80,270.00 L73.00,270.00 L73.20,270.00 L73.40,270.00 L73.60,270.00 L73.80,270.00 L74.00,270.00 L74.20,270.00 L74.40,270.00 L74.60,270.00 L74.80,270.00 L75.00,270.00 L75.20,270.00 L75.40,270.00 L75.60,270.00 L75.80,270.00 L76.00,270.00 L76.20,270.00 L76.40,270.00 L76.60,270.00 L76.80,270.00 L77.00,269.99 L77.20,269.99 L77.40,269.99 L77.60,269.99 L77.80,269.98 L78.00,269.97 L78.20,269.96 L78.40,269.95 L78.60,269.94 L78.80,269.91 L79.00,269.89 L79.20,269.86 L79.40,269.82 L79.60,269.77 L79.80,269.72 L80.00,269.67 L80.20,269.61 L80.40,269.54 L80.60,269.48 L80.80,269.42 L81.00,269.36 L81.20,269.30 L81.40,269.26 L81.60,269.22 L81.80,269.20 L82.00,269.20 L82.20,269.20 L82.40,269.22 L82.60,269.26 L82.80,269.30 L83.00,269.35 L83.20,269.41 L83.40,269.48 L83.60,269.54 L83.80,269.61 L84.00,269.67 L84.20,269.72 L84.40,269.77 L84.60,269.82 L84.80,269.85 L85.00,269.89 L85.20,269.91 L85.40,269.93 L85.60,269.95 L85.80,269.96 L86.00,269.97 L86.20,269.98 L86.40,269.98 L86.60,269.98 L86.80,269.99 L87.00,269.99 L87.20,269.99 L87.40,269.99 L87.60,269.99 L87.80,269.99 L88.00,269.99 L88.20,269.99 L88.40,269.99 L88.60,269.99 L88.80,269.99 L89.00,269.99 L89.20,269.99 L89.40,269.99 L89.60,269.99 L89.80,269.99 L90.00,269.99 L90.20,269.98 L90.40,269.98 L90.60,269.98 L90.80,269.98 L91.00,269.98 L91.20,269.98 L91.40,269.98 L91.60,269.98 L91.80,269.98 L92.00,269.98 L92.20,269.98 L92.40,269.98 L92.60,269.98 L92.80,269.97 L93.00,269.97 L93.20,269.97 L93.40,269.97 L93.60,269.97 L93.80,269.97 L94.00,269.97 L94.20,269.97 L94.40,269.96 L94.60,269.96 L94.80,269.96 L95.00,269.96 L95.20,269.96 L95.40,269.96 L95.60,269.95 L95.80,269.95 L96.00,269.95 L96.20,269.95 L96.40,269.94 L96.60,269.94 L96.80,269.94 L97.00,269.93 L97.20,269.93 L97.40,269.93 L97.60,269.92 L97.80,269.92 L98.00,269.91 L98.20,269.91 L98.40,269.90 L98.60,269.90 L98.80,269.89 L99.00,269.88 L99.20,269.88 L99.40,269.87 L99.60,269.86 L99.80,269.85 L100.00,269.84 L100.20,269.83 L100.40,269.82 L100.60,269.81 L100.80,269.80 L101.00,269.78 L101.20,269.77 L101.40,269.75 L101.60,269.73 L101.80,269.71 L102.00,269.69 L102.20,269.66 L102.40,269.64 L102.60,269.61 L102.80,269.57 L103.00,269.54 L103.20,269.50 L103.40,269.45 L103.60,269.40 L103.80,269.35 L104.00,269.29 L104.20,269.22 L104.40,269.15 L104.60,269.06 L104.80,268.97 L105.00,268.86 L105.20,268.74 L105.40,268.60 L105.60,268.45 L105.80,268.27 L106.00,268.07 L106.20,267.85 L106.40,267.59 L106.60,267.29 L106.80,266.94 L107.00,266.55 L107.20,266.09 L107.40,265.56 L107.60,264.95 L107.80,264.23 L108.00,263.41 L108.20,262.44 L108.40,261.32 L108.60,260.01 L108.80,258.49 L109.00,256.73 L109.20,254.70 L109.40,252.35 L109.60,249.68 L109.80,246.65 L110.00,243.28 L110.20,239.57 L110.40,235.59 L110.60,231.42 L110.80,227.22 L111.00,223.18 L111.20,219.51 L111.40,216.47 L111.60,214.29 L111.80,213.15 L112.00,213.15 L112.20,214.29 L112.40,216.47 L112.60,219.51 L112.80,223.18 L113.00,227.22 L113.20,231.42 L113.40,235.59 L113.60,239.57 L113.80,243.28 L114.00,246.65 L114.20,249.68 L114.40,252.35 L114.60,254.70 L114.80,256.73 L115.00,258.49 L115.20,260.01 L115.40,261.32 L115.60,262.44 L115.80,263.41 L116.00,264.23 L116.20,264.95 L116.40,265.56 L116.60,266.09 L116.80,266.55 L117.00,266.94 L117.20,267.29 L117.40,267.59 L117.60,267.85 L117.80,268.07 L118.00,268.27 L118.20,268.45 L118.40,268.60 L118.60,268.74 L118.80,268.86 L119.00,268.97 L119.20,269.06 L119.40,269.15 L119.60,269.22 L119.80,269.29 L120.00,269.35 L120.20,269.40 L120.40,269.45 L120.60,269.50 L120.80,269.54 L121.00,269.57 L121.20,269.61 L121.40,269.64 L121.60,269.66 L121.80,269.69 L122.00,269.71 L122.20,269.73 L122.40,269.75 L122.60,269.77 L122.80,269.78 L123.00,269.80 L123.20,269.81 L123.40,269.82 L123.60,269.83 L123.80,269.84 L124.00,269.85 L124.20,269.86 L124.40,269.87 L124.60,269.88 L124.80,269.88 L125.00,269.89 L125.20,269.90 L125.40,269.90 L125.60,269.91 L125.80,269.91 L126.00,269.92 L126.20,269.92 L126.40,269.92 L126.60,269.92 L126.80,269.92 L127.00,269.92 L127.20,269.92 L127.40,269.91 L127.60,269.90 L127.80,269.88 L128.00,269.86 L128.20,269.83 L128.40,269.79 L128.60,269.75 L128.80,269.69 L129.00,269.63 L129.20,269.55 L129.40,269.47 L129.60,269.38 L129.80,269.29 L130.00,269.19 L130.20,269.10 L130.40,269.01 L130.60,268.93 L130.80,268.87 L131.00,268.82 L131.20,268.79 L131.40,268.78 L131.60,268.79 L131.80,268.82 L132.00,268.87 L132.20,268.94 L132.40,269.02 L132.60,269.11 L132.80,269.21 L133.00,269.30 L133.20,269.40 L133.40,269.49 L133.60,269.58 L133.80,269.65 L134.00,269.72 L134.20,269.78 L134.40,269.82 L134.60,269.86 L134.80,269.90 L135.00,269.92 L135.20,269.94 L135.40,269.95 L135.60,269.97 L135.80,269.97 L136.00,269.98 L136.20,269.98 L136.40,269.99 L136.60,269.99 L136.80,269.99 L137.00,269.99 L137.20,269.99 L137.40,269.99 L137.60,269.99 L137.80,269.99 L138.00,269.99 L138.20,269.99 L138.40,269.99 L138.60,269.99 L138.80,269.99 L139.00,269.99 L139.20,269.99 L139.40,269.99 L139.60,269.99 L139.80,269.99 L140.00,269.99 L140.20,269.99 L140.40,269.99 L140.60,269.99 L140.80,270.00 L141.00,270.00 L141.20,270.00 L141.40,270.00 L141.60,270.00 L141.80,270.00 L142.00,270.00 L142.20,270.00 L142.40,270.00 L142.60,270.00 L142.80,270.00 L143.00,270.00 L143.20,270.00" fill="none" stroke="#231f20" stroke-width="0.9"/>
<ellipse cx="81.8" cy="104.5" rx="1.8" ry="1.0" fill="#111"/>
<rect x="64.0" y="25.0" width="79.19999999999999" height="78.9" fill="none" stroke="#231f20" stroke-width="1"/>
<line x1="62.0" y1="28.5" x2="64.0" y2="28.5" stroke="#231f20" stroke-width="0.8"/>
<line x1="62.7" y1="32.17" x2="64.0" y2="32.17" stroke="#231f20" stroke-width="0.8"/>
<line x1="62.7" y1="35.84" x2="64.0" y2="35.84" stroke="#231f20" stroke-width="0.8"/>
<line x1="62.7" y1="39.51" x2="64.0" y2="39.51" stroke="#231f20" stroke-width="0.8"/>
<line x1="62.0" y1="43.18" x2="64.0" y2="43.18" stroke="#231f20" stroke-width="0.8"/>
<line x1="62.7" y1="46.85" x2="64.0" y2="46.85" stroke="#231f20" stroke-width="0.8"/>
<line x1="62.7" y1="50.52" x2="64.0" y2="50.52" stroke="#231f20" stroke-width="0.8"/>
<line x1="62.7" y1="54.19" x2="64.0" y2="54.19" stroke="#231f20" stroke-width="0.8"/>
<line x1="62.0" y1="57.86" x2="64.0" y2="57.86" stroke="#231f20" stroke-width="0.8"/>
<line x1="62.7" y1="61.53" x2="64.0" y2="61.53" stroke="#231f20" stroke-width="0.8"/>
<line x1="62.7" y1="65.2" x2="64.0" y2="65.2" stroke="#231f20" stroke-width="0.8"/>
<line x1="62.7" y1="68.87" x2="64.0" y2="68.87" stroke="#231f20" stroke-width="0.8"/>
<line x1="62.0" y1="72.54" x2="64.0" y2="72.54" stroke="#231f20" stroke-width="0.8"/>
<line x1="62.7" y1="76.21" x2="64.0" y2="76.21" stroke="#231f20" stroke-width="0.8"/>
<line x1="62.7" y1="79.88" x2="64.0" y2="79.88" stroke="#231f20" stroke-width="0.8"/>
<line x1="62.7" y1="83.55" x2="64.0" y2="83.55" stroke="#231f20" stroke-width="0.8"/>
<line x1="62.0" y1="87.22" x2="64.0" y2="87.22" stroke="#231f20" stroke-width="0.8"/>
<line x1="62.7" y1="90.89" x2="64.0" y2="90.89" stroke="#231f20" stroke-width="0.8"/>
<line x1="62.7" y1="94.56" x2="64.0" y2="94.56" stroke="#231f20" stroke-width="0.8"/>
<line x1="62.7" y1="98.23" x2="64.0" y2="98.23" stroke="#231f20" stroke-width="0.8"/>
<line x1="62.0" y1="101.9" x2="64.0" y2="101.9" stroke="#231f20" stroke-width="0.8"/>
<line x1="66" y1="103.9" x2="66" y2="105.2" stroke="#231f20" stroke-width="0.5"/>
<line x1="70" y1="103.9" x2="70" y2="105.2" stroke="#231f20" stroke-width="0.5"/>
<line x1="74" y1="103.9" x2="74" y2="105.2" stroke="#231f20" stroke-width="0.5"/>
<line x1="79.5" y1="103.9" x2="79.5" y2="105.2" stroke="#231f20" stroke-width="0.5"/>
<line x1="85" y1="103.9" x2="85" y2="105.2" stroke="#231f20" stroke-width="0.5"/>
<line x1="89" y1="103.9" x2="89" y2="105.2" stroke="#231f20" stroke-width="0.5"/>
<line x1="93" y1="103.9" x2="93" y2="105.2" stroke="#231f20" stroke-width="0.5"/>
<line x1="97" y1="103.9" x2="97" y2="105.2" stroke="#231f20" stroke-width="0.5"/>
<line x1="101" y1="103.9" x2="101" y2="105.2" stroke="#231f20" stroke-width="0.5"/>
<line x1="105" y1="103.9" x2="105" y2="105.2" stroke="#231f20" stroke-width="0.5"/>
<line x1="110" y1="103.9" x2="110" y2="105.2" stroke="#231f20" stroke-width="0.5"/>
<line x1="114" y1="103.9" x2="114" y2="105.2" stroke="#231f20" stroke-width="0.5"/>
<line x1="117" y1="103.9" x2="117" y2="105.2" stroke="#231f20" stroke-width="0.5"/>
<line x1="121" y1="103.9" x2="121" y2="105.2" stroke="#231f20" stroke-width="0.5"/>
<line x1="124" y1="103.9" x2="124" y2="105.2" stroke="#231f20" stroke-width="0.5"/>
<line x1="127" y1="103.9" x2="127" y2="105.2" stroke="#231f20" stroke-width="0.5"/>
<line x1="131" y1="103.9" x2="131" y2="105.2" stroke="#231f20" stroke-width="0.5"/>
<line x1="134" y1="103.9" x2="134" y2="105.2" stroke="#231f20" stroke-width="0.5"/>
<line x1="137" y1="103.9" x2="137" y2="105.2" stroke="#231f20" stroke-width="0.5"/>
<line x1="140" y1="103.9" x2="140" y2="105.2" stroke="#231f20" stroke-width="0.5"/>
<ellipse cx="81.8" cy="187.1" rx="1.8" ry="1.0" fill="#111"/>
<rect x="64.0" y="108.4" width="79.19999999999999" height="78.1" fill="none" stroke="#231f20" stroke-width="1"/>
<line x1="62.0" y1="111.9" x2="64.0" y2="111.9" stroke="#231f20" stroke-width="0.8"/>
<line x1="62.7" y1="115.57" x2="64.0" y2="115.57" stroke="#231f20" stroke-width="0.8"/>
<line x1="62.7" y1="119.24" x2="64.0" y2="119.24" stroke="#231f20" stroke-width="0.8"/>
<line x1="62.7" y1="122.91" x2="64.0" y2="122.91" stroke="#231f20" stroke-width="0.8"/>
<line x1="62.0" y1="126.58" x2="64.0" y2="126.58" stroke="#231f20" stroke-width="0.8"/>
<line x1="62.7" y1="130.25" x2="64.0" y2="130.25" stroke="#231f20" stroke-width="0.8"/>
<line x1="62.7" y1="133.92" x2="64.0" y2="133.92" stroke="#231f20" stroke-width="0.8"/>
<line x1="62.7" y1="137.59" x2="64.0" y2="137.59" stroke="#231f20" stroke-width="0.8"/>
<line x1="62.0" y1="141.26" x2="64.0" y2="141.26" stroke="#231f20" stroke-width="0.8"/>
<line x1="62.7" y1="144.93" x2="64.0" y2="144.93" stroke="#231f20" stroke-width="0.8"/>
<line x1="62.7" y1="148.6" x2="64.0" y2="148.6" stroke="#231f20" stroke-width="0.8"/>
<line x1="62.7" y1="152.27" x2="64.0" y2="152.27" stroke="#231f20" stroke-width="0.8"/>
<line x1="62.0" y1="155.94" x2="64.0" y2="155.94" stroke="#231f20" stroke-width="0.8"/>
<line x1="62.7" y1="159.61" x2="64.0" y2="159.61" stroke="#231f20" stroke-width="0.8"/>
<line x1="62.7" y1="163.28" x2="64.0" y2="163.28" stroke="#231f20" stroke-width="0.8"/>
<line x1="62.7" y1="166.95" x2="64.0" y2="166.95" stroke="#231f20" stroke-width="0.8"/>
<line x1="62.0" y1="170.62" x2="64.0" y2="170.62" stroke="#231f20" stroke-width="0.8"/>
<line x1="62.7" y1="174.29" x2="64.0" y2="174.29" stroke="#231f20" stroke-width="0.8"/>
<line x1="62.7" y1="177.96" x2="64.0" y2="177.96" stroke="#231f20" stroke-width="0.8"/>
<line x1="62.7" y1="181.63" x2="64.0" y2="181.63" stroke="#231f20" stroke-width="0.8"/>
<line x1="62.0" y1="185.3" x2="64.0" y2="185.3" stroke="#231f20" stroke-width="0.8"/>
<line x1="66" y1="186.5" x2="66" y2="187.8" stroke="#231f20" stroke-width="0.5"/>
<line x1="70" y1="186.5" x2="70" y2="187.8" stroke="#231f20" stroke-width="0.5"/>
<line x1="74" y1="186.5" x2="74" y2="187.8" stroke="#231f20" stroke-width="0.5"/>
<line x1="79.5" y1="186.5" x2="79.5" y2="187.8" stroke="#231f20" stroke-width="0.5"/>
<line x1="85" y1="186.5" x2="85" y2="187.8" stroke="#231f20" stroke-width="0.5"/>
<line x1="89" y1="186.5" x2="89" y2="187.8" stroke="#231f20" stroke-width="0.5"/>
<line x1="93" y1="186.5" x2="93" y2="187.8" stroke="#231f20" stroke-width="0.5"/>
<line x1="97" y1="186.5" x2="97" y2="187.8" stroke="#231f20" stroke-width="0.5"/>
<line x1="101" y1="186.5" x2="101" y2="187.8" stroke="#231f20" stroke-width="0.5"/>
<line x1="105" y1="186.5" x2="105" y2="187.8" stroke="#231f20" stroke-width="0.5"/>
<line x1="110" y1="186.5" x2="110" y2="187.8" stroke="#231f20" stroke-width="0.5"/>
<line x1="114" y1="186.5" x2="114" y2="187.8" stroke="#231f20" stroke-width="0.5"/>
<line x1="117" y1="186.5" x2="117" y2="187.8" stroke="#231f20" stroke-width="0.5"/>
<line x1="121" y1="186.5" x2="121" y2="187.8" stroke="#231f20" stroke-width="0.5"/>
<line x1="124" y1="186.5" x2="124" y2="187.8" stroke="#231f20" stroke-width="0.5"/>
<line x1="127" y1="186.5" x2="127" y2="187.8" stroke="#231f20" stroke-width="0.5"/>
<line x1="131" y1="186.5" x2="131" y2="187.8" stroke="#231f20" stroke-width="0.5"/>
<line x1="134" y1="186.5" x2="134" y2="187.8" stroke="#231f20" stroke-width="0.5"/>
<line x1="137" y1="186.5" x2="137" y2="187.8" stroke="#231f20" stroke-width="0.5"/>
<line x1="140" y1="186.5" x2="140" y2="187.8" stroke="#231f20" stroke-width="0.5"/>
<ellipse cx="81.8" cy="270.6" rx="1.8" ry="1.0" fill="#111"/>
<rect x="64.0" y="191.6" width="79.19999999999999" height="78.4" fill="none" stroke="#231f20" stroke-width="1"/>
<line x1="62.0" y1="195.1" x2="64.0" y2="195.1" stroke="#231f20" stroke-width="0.8"/>
<line x1="62.7" y1="198.77" x2="64.0" y2="198.77" stroke="#231f20" stroke-width="0.8"/>
<line x1="62.7" y1="202.44" x2="64.0" y2="202.44" stroke="#231f20" stroke-width="0.8"/>
<line x1="62.7" y1="206.11" x2="64.0" y2="206.11" stroke="#231f20" stroke-width="0.8"/>
<line x1="62.0" y1="209.78" x2="64.0" y2="209.78" stroke="#231f20" stroke-width="0.8"/>
<line x1="62.7" y1="213.45" x2="64.0" y2="213.45" stroke="#231f20" stroke-width="0.8"/>
<line x1="62.7" y1="217.12" x2="64.0" y2="217.12" stroke="#231f20" stroke-width="0.8"/>
<line x1="62.7" y1="220.79" x2="64.0" y2="220.79" stroke="#231f20" stroke-width="0.8"/>
<line x1="62.0" y1="224.46" x2="64.0" y2="224.46" stroke="#231f20" stroke-width="0.8"/>
<line x1="62.7" y1="228.13" x2="64.0" y2="228.13" stroke="#231f20" stroke-width="0.8"/>
<line x1="62.7" y1="231.8" x2="64.0" y2="231.8" stroke="#231f20" stroke-width="0.8"/>
<line x1="62.7" y1="235.47" x2="64.0" y2="235.47" stroke="#231f20" stroke-width="0.8"/>
<line x1="62.0" y1="239.14" x2="64.0" y2="239.14" stroke="#231f20" stroke-width="0.8"/>
<line x1="62.7" y1="242.81" x2="64.0" y2="242.81" stroke="#231f20" stroke-width="0.8"/>
<line x1="62.7" y1="246.48" x2="64.0" y2="246.48" stroke="#231f20" stroke-width="0.8"/>
<line x1="62.7" y1="250.15" x2="64.0" y2="250.15" stroke="#231f20" stroke-width="0.8"/>
<line x1="62.0" y1="253.82" x2="64.0" y2="253.82" stroke="#231f20" stroke-width="0.8"/>
<line x1="62.7" y1="257.49" x2="64.0" y2="257.49" stroke="#231f20" stroke-width="0.8"/>
<line x1="62.7" y1="261.16" x2="64.0" y2="261.16" stroke="#231f20" stroke-width="0.8"/>
<line x1="62.7" y1="264.83" x2="64.0" y2="264.83" stroke="#231f20" stroke-width="0.8"/>
<line x1="62.0" y1="268.5" x2="64.0" y2="268.5" stroke="#231f20" stroke-width="0.8"/>
<line x1="66" y1="270.0" x2="66" y2="271.3" stroke="#231f20" stroke-width="0.5"/>
<line x1="70" y1="270.0" x2="70" y2="271.3" stroke="#231f20" stroke-width="0.5"/>
<line x1="74" y1="270.0" x2="74" y2="271.3" stroke="#231f20" stroke-width="0.5"/>
<line x1="79.5" y1="270.0" x2="79.5" y2="271.3" stroke="#231f20" stroke-width="0.5"/>
<line x1="85" y1="270.0" x2="85" y2="271.3" stroke="#231f20" stroke-width="0.5"/>
<line x1="89" y1="270.0" x2="89" y2="271.3" stroke="#231f20" stroke-width="0.5"/>
<line x1="93" y1="270.0" x2="93" y2="271.3" stroke="#231f20" stroke-width="0.5"/>
<line x1="97" y1="270.0" x2="97" y2="271.3" stroke="#231f20" stroke-width="0.5"/>
<line x1="101" y1="270.0" x2="101" y2="271.3" stroke="#231f20" stroke-width="0.5"/>
<line x1="105" y1="270.0" x2="105" y2="271.3" stroke="#231f20" stroke-width="0.5"/>
<line x1="110" y1="270.0" x2="110" y2="271.3" stroke="#231f20" stroke-width="0.5"/>
<line x1="114" y1="270.0" x2="114" y2="271.3" stroke="#231f20" stroke-width="0.5"/>
<line x1="117" y1="270.0" x2="117" y2="271.3" stroke="#231f20" stroke-width="0.5"/>
<line x1="121" y1="270.0" x2="121" y2="271.3" stroke="#231f20" stroke-width="0.5"/>
<line x1="124" y1="270.0" x2="124" y2="271.3" stroke="#231f20" stroke-width="0.5"/>
<line x1="127" y1="270.0" x2="127" y2="271.3" stroke="#231f20" stroke-width="0.5"/>
<line x1="131" y1="270.0" x2="131" y2="271.3" stroke="#231f20" stroke-width="0.5"/>
<line x1="134" y1="270.0" x2="134" y2="271.3" stroke="#231f20" stroke-width="0.5"/>
<line x1="137" y1="270.0" x2="137" y2="271.3" stroke="#231f20" stroke-width="0.5"/>
<line x1="140" y1="270.0" x2="140" y2="271.3" stroke="#231f20" stroke-width="0.5"/>
<line x1="64.0" y1="79.4" x2="126.6" y2="79.4" stroke="#231f20" stroke-width="1"/>
<line x1="126.6" y1="77.8" x2="126.6" y2="85.6" stroke="#231f20" stroke-width="1"/>
<line x1="126.6" y1="83.2" x2="143.2" y2="83.2" stroke="#231f20" stroke-width="1"/>
<line x1="64.0" y1="161.8" x2="126.6" y2="161.8" stroke="#231f20" stroke-width="1"/>
<line x1="126.6" y1="159.2" x2="126.6" y2="167.6" stroke="#231f20" stroke-width="1"/>
<line x1="126.6" y1="166.5" x2="143.2" y2="166.5" stroke="#231f20" stroke-width="1"/>
<line x1="64.0" y1="246.5" x2="126.6" y2="246.5" stroke="#231f20" stroke-width="1"/>
<line x1="126.6" y1="244.3" x2="126.6" y2="251.2" stroke="#231f20" stroke-width="1"/>
<line x1="126.6" y1="250.2" x2="143.2" y2="250.2" stroke="#231f20" stroke-width="1"/>
<text x="85.46" y="33.90" font-size="9.90" fill="#231f20" textLength="22.62" lengthAdjust="spacingAndGlyphs">Cont</text>
<text x="121.16" y="33.90" font-size="9.90" fill="#231f20" textLength="19.76" lengthAdjust="spacingAndGlyphs">OVA</text>
<text x="85.58" y="46.90" font-size="9.90" fill="#231f20" textLength="20.38" lengthAdjust="spacingAndGlyphs">50.3</text>
<text x="121.26" y="46.90" font-size="9.90" fill="#231f20" textLength="19.95" lengthAdjust="spacingAndGlyphs">49.7</text>
<text x="85.46" y="118.40" font-size="9.90" fill="#231f20" textLength="22.62" lengthAdjust="spacingAndGlyphs">Cont</text>
<text x="119.65" y="118.40" font-size="9.90" fill="#231f20" textLength="20.17" lengthAdjust="spacingAndGlyphs">OVA</text>
<text x="85.51" y="131.90" font-size="9.90" fill="#231f20" textLength="20.52" lengthAdjust="spacingAndGlyphs">97.2</text>
<text x="119.58" y="131.90" font-size="9.90" fill="#231f20" textLength="20.18" lengthAdjust="spacingAndGlyphs">2.76</text>
<text x="88.46" y="201.90" font-size="9.90" fill="#231f20" textLength="22.62" lengthAdjust="spacingAndGlyphs">Cont</text>
<text x="120.15" y="201.90" font-size="9.90" fill="#ed1c24" textLength="20.27" lengthAdjust="spacingAndGlyphs">OVA</text>
<text x="88.50" y="215.10" font-size="9.90" fill="#231f20" textLength="20.77" lengthAdjust="spacingAndGlyphs">98.6</text>
<text x="120.53" y="215.10" font-size="9.90" fill="#ed1c24" textLength="19.67" lengthAdjust="spacingAndGlyphs">1.44</text>
<text x="61.92" y="280.90" font-size="9.60" fill="#231f20" textLength="9.93" lengthAdjust="spacingAndGlyphs">10</text>
<text x="70.99" y="277.60" font-size="6.40" fill="#231f20" textLength="6.11" lengthAdjust="spacingAndGlyphs">-3</text>
<text x="79.23" y="280.90" font-size="9.60" fill="#231f20" textLength="3.84" lengthAdjust="spacingAndGlyphs">0</text>
<text x="88.82" y="280.90" font-size="9.60" fill="#231f20" textLength="9.93" lengthAdjust="spacingAndGlyphs">10</text>
<text x="98.34" y="277.60" font-size="6.40" fill="#231f20" textLength="3.75" lengthAdjust="spacingAndGlyphs">3</text>
<text x="109.22" y="280.90" font-size="9.60" fill="#231f20" textLength="9.93" lengthAdjust="spacingAndGlyphs">10</text>
<text x="118.85" y="277.60" font-size="6.40" fill="#231f20" textLength="3.75" lengthAdjust="spacingAndGlyphs">4</text>
<text x="129.62" y="280.90" font-size="9.60" fill="#231f20" textLength="9.93" lengthAdjust="spacingAndGlyphs">10</text>
<text x="138.93" y="277.60" font-size="6.40" fill="#231f20" textLength="3.75" lengthAdjust="spacingAndGlyphs">5</text>
<line x1="64.9" y1="287" x2="142" y2="287" stroke="#231f20" stroke-width="1.3"/>
<path d="M137,282.2 L142.2,287 L137,291.8" stroke="#231f20" stroke-width="1.3" fill="none"/>
<text x="64.32" y="298.80" font-size="11.40" fill="#231f20" textLength="23.04" lengthAdjust="spacingAndGlyphs">CTV</text>
<line x1="178.5" y1="123.0" x2="178.5" y2="270.7" stroke="#231f20" stroke-width="1"/>
<line x1="173.2" y1="271.0" x2="277.7" y2="271.0" stroke="#231f20" stroke-width="1"/>
<line x1="173.2" y1="123.0" x2="178.5" y2="123.0" stroke="#231f20" stroke-width="1"/>
<text x="157.12" y="127.60" font-size="12.70" fill="#231f20" textLength="14.90" lengthAdjust="spacingAndGlyphs">60</text>
<line x1="173.2" y1="172.23333333333332" x2="178.5" y2="172.23333333333332" stroke="#231f20" stroke-width="1"/>
<text x="157.51" y="176.83" font-size="12.70" fill="#231f20" textLength="14.19" lengthAdjust="spacingAndGlyphs">40</text>
<line x1="173.2" y1="221.46666666666664" x2="178.5" y2="221.46666666666664" stroke="#231f20" stroke-width="1"/>
<text x="157.14" y="226.07" font-size="12.70" fill="#231f20" textLength="14.68" lengthAdjust="spacingAndGlyphs">20</text>
<line x1="173.2" y1="270.7" x2="178.5" y2="270.7" stroke="#231f20" stroke-width="1"/>
<text x="163.28" y="275.30" font-size="12.70" fill="#231f20" textLength="7.45" lengthAdjust="spacingAndGlyphs">0</text>
<line x1="198.5" y1="271.0" x2="198.5" y2="276.6" stroke="#231f20" stroke-width="1"/>
<line x1="228.5" y1="271.0" x2="228.5" y2="276.6" stroke="#231f20" stroke-width="1"/>
<line x1="257.5" y1="271.0" x2="257.5" y2="276.6" stroke="#231f20" stroke-width="1"/>
<text transform="translate(154.80,263.60) rotate(-90)" x="-0.40" y="0" font-size="12.20" fill="#231f20" textLength="126.90" lengthAdjust="spacingAndGlyphs">% CTV OVA Pulsed Cells</text>
<text x="184.09" y="291.40" font-size="10.30" fill="#231f20" textLength="25.01" lengthAdjust="spacingAndGlyphs">eGFP</text>
<text x="218.06" y="291.40" font-size="10.30" fill="#231f20" textLength="19.76" lengthAdjust="spacingAndGlyphs">OVA</text>
<text x="244.16" y="291.40" font-size="10.30" fill="#ed1c24" textLength="36.73" lengthAdjust="spacingAndGlyphs">αIFNαR</text>
<text x="251.55" y="304.70" font-size="10.30" fill="#ed1c24" textLength="19.97" lengthAdjust="spacingAndGlyphs">OVA</text>
<text x="227.59" y="104.30" font-size="10.00" fill="#231f20" textLength="31.74" lengthAdjust="spacingAndGlyphs">0.1775</text>
<line x1="232.2" y1="106.6" x2="258.6" y2="106.6" stroke="#231f20" stroke-width="1.1"/>
<text x="196.60" y="118.40" font-size="10.00" fill="#231f20" textLength="31.55" lengthAdjust="spacingAndGlyphs">0.0238</text>
<line x1="199.0" y1="120.2" x2="227.7" y2="120.2" stroke="#231f20" stroke-width="1.1"/>
<text x="206.89" y="131.80" font-size="10.00" fill="#231f20" textLength="31.83" lengthAdjust="spacingAndGlyphs">0.0357</text>
<line x1="197.4" y1="134.6" x2="258.6" y2="134.6" stroke="#231f20" stroke-width="1.1"/>
<line x1="188.4" y1="159.5" x2="208.4" y2="159.5" stroke="#231f20" stroke-width="1.1"/>
<circle cx="198.5" cy="148.4" r="2.7" fill="#fff" stroke="#231f20" stroke-width="0.9"/>
<circle cx="191.6" cy="165.7" r="2.7" fill="#fff" stroke="#231f20" stroke-width="0.9"/>
<circle cx="205.4" cy="165.7" r="2.7" fill="#fff" stroke="#231f20" stroke-width="0.9"/>
<circle cx="227.9" cy="247.5" r="3.2" fill="#000"/>
<circle cx="224.8" cy="260.0" r="3.2" fill="#000"/>
<circle cx="221.0" cy="265.7" r="3.2" fill="#000"/>
<circle cx="228.8" cy="263.8" r="3.2" fill="#000"/>
<circle cx="232.3" cy="264.5" r="3.2" fill="#000"/>
<circle cx="235.5" cy="266.3" r="3.2" fill="#000"/>
<line x1="218.2" y1="261.3" x2="237.8" y2="261.3" stroke="#231f20" stroke-width="1.1"/>
<circle cx="257.6" cy="247.5" r="2.85" fill="#ff2a00" stroke="#3a1a14" stroke-width="0.7"/>
<circle cx="255.4" cy="265.0" r="2.85" fill="#ff2a00" stroke="#3a1a14" stroke-width="0.7"/>
<circle cx="250.8" cy="267.8" r="2.85" fill="#ff2a00" stroke="#3a1a14" stroke-width="0.7"/>
<circle cx="259.9" cy="267.6" r="2.85" fill="#ff2a00" stroke="#3a1a14" stroke-width="0.7"/>
<circle cx="264.8" cy="267.3" r="2.85" fill="#ff2a00" stroke="#3a1a14" stroke-width="0.7"/>
<line x1="247.9" y1="263.2" x2="267.7" y2="263.2" stroke="#231f20" stroke-width="1.1"/>
<text x="293.88" y="94.70" font-size="12.70" fill="#231f20" textLength="7.52" lengthAdjust="spacingAndGlyphs">B</text>
<line x1="316.5" y1="122.3" x2="316.5" y2="270.5" stroke="#231f20" stroke-width="1"/>
<line x1="311.0" y1="270.5" x2="465.0" y2="270.5" stroke="#231f20" stroke-width="1"/>
<line x1="311.0" y1="122.30000000000001" x2="316.5" y2="122.30000000000001" stroke="#231f20" stroke-width="1"/>
<text x="294.76" y="126.80" font-size="12.70" fill="#231f20" textLength="13.92" lengthAdjust="spacingAndGlyphs">60</text>
<line x1="311.0" y1="171.5666666666667" x2="316.5" y2="171.5666666666667" stroke="#231f20" stroke-width="1"/>
<text x="294.92" y="176.07" font-size="12.70" fill="#231f20" textLength="13.77" lengthAdjust="spacingAndGlyphs">40</text>
<line x1="311.0" y1="220.83333333333337" x2="316.5" y2="220.83333333333337" stroke="#231f20" stroke-width="1"/>
<text x="294.67" y="225.33" font-size="12.70" fill="#231f20" textLength="14.03" lengthAdjust="spacingAndGlyphs">20</text>
<line x1="311.0" y1="270.5" x2="316.5" y2="270.5" stroke="#231f20" stroke-width="1"/>
<text x="300.48" y="275.00" font-size="12.70" fill="#231f20" textLength="7.45" lengthAdjust="spacingAndGlyphs">0</text>
<text transform="translate(291.30,254.20) rotate(-90)" x="-0.40" y="0" font-size="11.60" fill="#231f20" textLength="110.50" lengthAdjust="spacingAndGlyphs">% IFNγ+ CD8+ T cells</text>
<path d="M332.5,270.5 L332.5,275.8 L325.6,282.6" stroke="#231f20" stroke-width="1" fill="none"/>
<path d="M355.8,270.5 L355.8,275.8 L349.1,282.6" stroke="#231f20" stroke-width="1" fill="none"/>
<path d="M379.4,270.5 L379.4,275.8 L372.2,282.6" stroke="#231f20" stroke-width="1" fill="none"/>
<path d="M402.7,270.5 L402.7,275.8 L409.6,282.6" stroke="#231f20" stroke-width="1" fill="none"/>
<path d="M425.8,270.5 L425.8,275.8 L432.9,282.6" stroke="#231f20" stroke-width="1" fill="none"/>
<path d="M449.4,270.5 L449.4,275.8 L456.5,282.6" stroke="#231f20" stroke-width="1" fill="none"/>
<circle cx="332.5" cy="267.3" r="2.7" fill="#fff" stroke="#231f20" stroke-width="0.9"/>
<circle cx="351.6" cy="270.3" r="3.2" fill="#000"/>
<circle cx="354.6" cy="270.3" r="3.2" fill="#000"/>
<circle cx="357.6" cy="270.3" r="3.2" fill="#000"/>
<circle cx="360.2" cy="270.3" r="3.2" fill="#000"/>
<circle cx="363.0" cy="270.3" r="3.2" fill="#000"/>
<circle cx="374.4" cy="270.3" r="2.85" fill="#ff2a00" stroke="#3a1a14" stroke-width="0.7"/>
<circle cx="380.1" cy="270.0" r="2.85" fill="#ff2a00" stroke="#3a1a14" stroke-width="0.7"/>
<circle cx="384.1" cy="270.0" r="2.85" fill="#ff2a00" stroke="#3a1a14" stroke-width="0.7"/>
<circle cx="377.6" cy="267.6" r="2.85" fill="#ff2a00" stroke="#3a1a14" stroke-width="0.7"/>
<line x1="394.9" y1="263.2" x2="410.2" y2="263.2" stroke="#231f20" stroke-width="1.1"/>
<circle cx="402.7" cy="268.2" r="2.7" fill="#fff" stroke="#231f20" stroke-width="0.9"/>
<circle cx="402.7" cy="259.0" r="2.7" fill="#fff" stroke="#231f20" stroke-width="0.9"/>
<circle cx="426.0" cy="136.6" r="3.2" fill="#000"/>
<circle cx="426.0" cy="158.0" r="3.2" fill="#000"/>
<circle cx="421.1" cy="206.1" r="3.2" fill="#000"/>
<circle cx="430.9" cy="205.5" r="3.2" fill="#000"/>
<circle cx="426.0" cy="209.3" r="3.2" fill="#000"/>
<circle cx="425.9" cy="235.1" r="3.2" fill="#000"/>
<circle cx="425.9" cy="244.5" r="3.2" fill="#000"/>
<circle cx="425.9" cy="254.3" r="3.2" fill="#000"/>
<line x1="441.6" y1="210.7" x2="457.0" y2="210.7" stroke="#231f20" stroke-width="1.1"/>
<circle cx="449.1" cy="156.9" r="2.85" fill="#ff2a00" stroke="#3a1a14" stroke-width="0.7"/>
<circle cx="449.1" cy="178.5" r="2.85" fill="#ff2a00" stroke="#3a1a14" stroke-width="0.7"/>
<circle cx="449.1" cy="198.5" r="2.85" fill="#ff2a00" stroke="#3a1a14" stroke-width="0.7"/>
<circle cx="444.2" cy="216.0" r="2.85" fill="#ff2a00" stroke="#3a1a14" stroke-width="0.7"/>
<circle cx="454.2" cy="216.0" r="2.85" fill="#ff2a00" stroke="#3a1a14" stroke-width="0.7"/>
<circle cx="449.1" cy="214.1" r="2.85" fill="#ff2a00" stroke="#3a1a14" stroke-width="0.7"/>
<circle cx="449.4" cy="239.5" r="2.85" fill="#ff2a00" stroke="#3a1a14" stroke-width="0.7"/>
<circle cx="449.4" cy="268.3" r="2.85" fill="#ff2a00" stroke="#3a1a14" stroke-width="0.7"/>
<text x="301.19" y="291.80" font-size="10.30" fill="#231f20" textLength="25.32" lengthAdjust="spacingAndGlyphs">eGFP</text>
<text x="328.45" y="291.80" font-size="10.30" fill="#231f20" textLength="19.86" lengthAdjust="spacingAndGlyphs">OVA</text>
<text x="351.16" y="291.80" font-size="10.30" fill="#ed1c24" textLength="36.63" lengthAdjust="spacingAndGlyphs">αIFNαR</text>
<text x="359.05" y="305.40" font-size="10.30" fill="#ed1c24" textLength="20.17" lengthAdjust="spacingAndGlyphs">OVA</text>
<line x1="301.0" y1="307.4" x2="384.0" y2="307.4" stroke="#231f20" stroke-width="1.1"/>
<text x="313.84" y="318.40" font-size="10.80" fill="#231f20" textLength="57.83" lengthAdjust="spacingAndGlyphs">+Irr Control</text>
<text x="397.41" y="291.80" font-size="10.30" fill="#231f20" textLength="23.87" lengthAdjust="spacingAndGlyphs">eGFP</text>
<text x="425.16" y="291.80" font-size="10.30" fill="#231f20" textLength="19.76" lengthAdjust="spacingAndGlyphs">OVA</text>
<text x="449.86" y="291.50" font-size="10.30" fill="#ed1c24" textLength="36.73" lengthAdjust="spacingAndGlyphs">αIFNαR</text>
<text x="457.95" y="305.20" font-size="10.30" fill="#ed1c24" textLength="19.97" lengthAdjust="spacingAndGlyphs">OVA</text>
<line x1="398.9" y1="307.3" x2="488.8" y2="307.3" stroke="#231f20" stroke-width="1.1"/>
<text x="398.35" y="318.40" font-size="10.80" fill="#231f20" textLength="86.28" lengthAdjust="spacingAndGlyphs">+SIINFEKL-H-2K</text>
<text x="484.28" y="313.50" font-size="6.50" fill="#231f20" textLength="4.45" lengthAdjust="spacingAndGlyphs">b</text>
<text x="472.29" y="9.60" font-size="14.00" fill="#231f20" textLength="8.67" lengthAdjust="spacingAndGlyphs">C</text>
<line x1="501.4" y1="31.8" x2="684.0" y2="31.8" stroke="#231f20" stroke-width="1.3"/>
<path d="M679.4,26.6 L684.4,31.8 L679.4,36.9" stroke="#231f20" stroke-width="1.3" fill="none"/>
<line x1="501.6" y1="31.8" x2="501.6" y2="45.4" stroke="#231f20" stroke-width="1.3"/>
<line x1="552.4" y1="31.8" x2="552.4" y2="45.4" stroke="#231f20" stroke-width="1.3"/>
<line x1="661.7" y1="31.8" x2="661.7" y2="45.4" stroke="#231f20" stroke-width="1.3"/>
<text x="493.77" y="54.80" font-size="9.60" fill="#231f20" textLength="14.26" lengthAdjust="spacingAndGlyphs">D-1</text>
<text x="485.30" y="67.40" font-size="9.60" fill="#231f20" textLength="32.83" lengthAdjust="spacingAndGlyphs">αIFNαR</text>
<text x="487.84" y="78.30" font-size="9.60" fill="#231f20" textLength="27.46" lengthAdjust="spacingAndGlyphs">or PBS</text>
<text x="547.01" y="55.00" font-size="9.60" fill="#231f20" textLength="12.37" lengthAdjust="spacingAndGlyphs">D0</text>
<text x="529.91" y="67.20" font-size="9.60" fill="#231f20" textLength="46.77" lengthAdjust="spacingAndGlyphs">mRNA-LNP</text>
<text x="652.21" y="54.60" font-size="9.60" fill="#231f20" textLength="17.57" lengthAdjust="spacingAndGlyphs">D14</text>
<text x="638.69" y="67.00" font-size="9.60" fill="#231f20" textLength="43.52" lengthAdjust="spacingAndGlyphs">B16-mOVA</text>
<g transform="translate(486,2.0)">
<g fill="none" stroke="#262626" stroke-width="0.8" stroke-linecap="round" stroke-linejoin="round">
<path d="M3.4,4.9 L6.6,2.8" stroke-width="1.4"/>
<path d="M4.6,4.2 L6.0,5.8" stroke-width="1.0"/>
<path d="M5.4,5.4 L12.4,13.6 L13.8,12.4 L6.8,4.2 Z" fill="#b4b4b4" stroke-width="0.75"/>
<path d="M7.2,7.4 L8.4,6.4 M8.6,9.0 L9.8,8.0 M10.0,10.6 L11.2,9.6" stroke-width="0.55"/>
<path d="M13.0,13.0 L14.0,14.8" stroke-width="1.0"/>
<g transform="translate(0.3,0.7)">
<path d="M12.8,13.8 C14.6,13.0 16.4,12.8 17.9,12.6"/>
<path d="M17.6,12.8 C17.2,11.4 18.2,10.6 19.4,11.0 C20.4,10.8 21.0,11.8 20.6,12.8"/>
<path d="M20.6,12.6 C22.0,12.2 23.6,13.4 24.2,14.8 C25.0,15.4 24.8,16.8 23.8,17.4 C23.0,17.8 22.2,17.8 21.8,18.1"/>
<path d="M21.8,18.1 C21.2,19.2 20.8,20.0 21.0,20.8 L23.2,21.5"/>
<path d="M20.6,21.2 C18.6,21.8 16.4,22.0 14.6,22.0"/>
<path d="M12.4,14.4 C11.0,15.4 10.0,16.8 9.6,18.8 C9.3,20.4 10.0,21.4 11.0,21.7 C12.2,22.1 13.4,22.2 14.6,22.0"/>
<path d="M12.6,14.4 C13.2,16.2 13.6,18.2 14.0,19.8 C14.3,20.8 14.6,21.4 15.2,22.0"/>
<path d="M14.6,21.8 L15.8,22.6 M16.8,21.7 L18.0,22.4 M19.6,21.4 L20.8,22.2"/>
<path d="M9.6,20.8 C7.6,20.8 5.6,20.9 4.4,21.6 C3.4,22.2 3.6,23.4 4.6,23.9 C6.0,24.5 8.4,24.7 10.4,24.6 C11.6,24.6 12.6,24.7 13.2,25.0"/>
<path d="M4.6,22.8 C6.4,23.4 9.0,23.6 12.0,23.8" stroke-width="0.55"/>
</g>
</g></g>
<g transform="translate(536,2.0)">
<g fill="none" stroke="#262626" stroke-width="0.8" stroke-linecap="round" stroke-linejoin="round">
<path d="M3.4,4.9 L6.6,2.8" stroke-width="1.4"/>
<path d="M4.6,4.2 L6.0,5.8" stroke-width="1.0"/>
<path d="M5.4,5.4 L12.4,13.6 L13.8,12.4 L6.8,4.2 Z" fill="#b4b4b4" stroke-width="0.75"/>
<path d="M7.2,7.4 L8.4,6.4 M8.6,9.0 L9.8,8.0 M10.0,10.6 L11.2,9.6" stroke-width="0.55"/>
<path d="M13.0,13.0 L14.0,14.8" stroke-width="1.0"/>
<g transform="translate(0.3,0.7)">
<path d="M12.8,13.8 C14.6,13.0 16.4,12.8 17.9,12.6"/>
<path d="M17.6,12.8 C17.2,11.4 18.2,10.6 19.4,11.0 C20.4,10.8 21.0,11.8 20.6,12.8"/>
<path d="M20.6,12.6 C22.0,12.2 23.6,13.4 24.2,14.8 C25.0,15.4 24.8,16.8 23.8,17.4 C23.0,17.8 22.2,17.8 21.8,18.1"/>
<path d="M21.8,18.1 C21.2,19.2 20.8,20.0 21.0,20.8 L23.2,21.5"/>
<path d="M20.6,21.2 C18.6,21.8 16.4,22.0 14.6,22.0"/>
<path d="M12.4,14.4 C11.0,15.4 10.0,16.8 9.6,18.8 C9.3,20.4 10.0,21.4 11.0,21.7 C12.2,22.1 13.4,22.2 14.6,22.0"/>
<path d="M12.6,14.4 C13.2,16.2 13.6,18.2 14.0,19.8 C14.3,20.8 14.6,21.4 15.2,22.0"/>
<path d="M14.6,21.8 L15.8,22.6 M16.8,21.7 L18.0,22.4 M19.6,21.4 L20.8,22.2"/>
<path d="M9.6,20.8 C7.6,20.8 5.6,20.9 4.4,21.6 C3.4,22.2 3.6,23.4 4.6,23.9 C6.0,24.5 8.4,24.7 10.4,24.6 C11.6,24.6 12.6,24.7 13.2,25.0"/>
<path d="M4.6,22.8 C6.4,23.4 9.0,23.6 12.0,23.8" stroke-width="0.55"/>
</g>
</g></g>
<g transform="translate(644.4,1.8)">
<g fill="none" stroke="#262626" stroke-width="0.8" stroke-linecap="round" stroke-linejoin="round">
<path d="M3.4,4.9 L6.6,2.8" stroke-width="1.4"/>
<path d="M4.6,4.2 L6.0,5.8" stroke-width="1.0"/>
<path d="M5.4,5.4 L12.4,13.6 L13.8,12.4 L6.8,4.2 Z" fill="#b4b4b4" stroke-width="0.75"/>
<path d="M7.2,7.4 L8.4,6.4 M8.6,9.0 L9.8,8.0 M10.0,10.6 L11.2,9.6" stroke-width="0.55"/>
<path d="M13.0,13.0 L14.0,14.8" stroke-width="1.0"/>
<g transform="translate(0.3,0.7)">
<path d="M12.8,13.8 C14.6,13.0 16.4,12.8 17.9,12.6"/>
<path d="M17.6,12.8 C17.2,11.4 18.2,10.6 19.4,11.0 C20.4,10.8 21.0,11.8 20.6,12.8"/>
<path d="M20.6,12.6 C22.0,12.2 23.6,13.4 24.2,14.8 C25.0,15.4 24.8,16.8 23.8,17.4 C23.0,17.8 22.2,17.8 21.8,18.1"/>
<path d="M21.8,18.1 C21.2,19.2 20.8,20.0 21.0,20.8 L23.2,21.5"/>
<path d="M20.6,21.2 C18.6,21.8 16.4,22.0 14.6,22.0"/>
<path d="M12.4,14.4 C11.0,15.4 10.0,16.8 9.6,18.8 C9.3,20.4 10.0,21.4 11.0,21.7 C12.2,22.1 13.4,22.2 14.6,22.0"/>
<path d="M12.6,14.4 C13.2,16.2 13.6,18.2 14.0,19.8 C14.3,20.8 14.6,21.4 15.2,22.0"/>
<path d="M14.6,21.8 L15.8,22.6 M16.8,21.7 L18.0,22.4 M19.6,21.4 L20.8,22.2"/>
<path d="M9.6,20.8 C7.6,20.8 5.6,20.9 4.4,21.6 C3.4,22.2 3.6,23.4 4.6,23.9 C6.0,24.5 8.4,24.7 10.4,24.6 C11.6,24.6 12.6,24.7 13.2,25.0"/>
<path d="M4.6,22.8 C6.4,23.4 9.0,23.6 12.0,23.8" stroke-width="0.55"/>
</g>
</g></g>
<text x="472.81" y="94.70" font-size="12.80" fill="#231f20" textLength="9.63" lengthAdjust="spacingAndGlyphs">D</text>
<line x1="514.5" y1="108.0" x2="514.5" y2="270.5" stroke="#231f20" stroke-width="1"/>
<line x1="514.5" y1="270.5" x2="677.5" y2="270.5" stroke="#231f20" stroke-width="1"/>
<line x1="508.2" y1="108.30000000000001" x2="514.5" y2="108.30000000000001" stroke="#231f20" stroke-width="1"/>
<text x="485.87" y="113.05" font-size="13.20" fill="#231f20" textLength="20.92" lengthAdjust="spacingAndGlyphs">250</text>
<line x1="508.2" y1="140.70000000000002" x2="514.5" y2="140.70000000000002" stroke="#231f20" stroke-width="1"/>
<text x="485.97" y="145.45" font-size="13.20" fill="#231f20" textLength="20.81" lengthAdjust="spacingAndGlyphs">200</text>
<line x1="508.2" y1="173.10000000000002" x2="514.5" y2="173.10000000000002" stroke="#231f20" stroke-width="1"/>
<text x="486.18" y="177.85" font-size="13.20" fill="#231f20" textLength="20.19" lengthAdjust="spacingAndGlyphs">150</text>
<line x1="508.2" y1="205.5" x2="514.5" y2="205.5" stroke="#231f20" stroke-width="1"/>
<text x="486.28" y="210.25" font-size="13.20" fill="#231f20" textLength="20.19" lengthAdjust="spacingAndGlyphs">100</text>
<line x1="508.2" y1="237.9" x2="514.5" y2="237.9" stroke="#231f20" stroke-width="1"/>
<text x="492.79" y="242.65" font-size="13.20" fill="#231f20" textLength="14.10" lengthAdjust="spacingAndGlyphs">50</text>
<line x1="508.2" y1="270.3" x2="514.5" y2="270.3" stroke="#231f20" stroke-width="1"/>
<text x="499.90" y="275.05" font-size="13.20" fill="#231f20" textLength="7.10" lengthAdjust="spacingAndGlyphs">0</text>
<line x1="515.2" y1="270.5" x2="515.2" y2="276.3" stroke="#231f20" stroke-width="1"/>
<text x="512.20" y="287.10" font-size="11.80" fill="#231f20" textLength="7.10" lengthAdjust="spacingAndGlyphs">0</text>
<line x1="547.58" y1="270.5" x2="547.58" y2="276.3" stroke="#231f20" stroke-width="1"/>
<text x="543.94" y="287.10" font-size="11.80" fill="#231f20" textLength="6.33" lengthAdjust="spacingAndGlyphs">5</text>
<line x1="579.96" y1="270.5" x2="579.96" y2="276.3" stroke="#231f20" stroke-width="1"/>
<text x="573.57" y="287.10" font-size="11.80" fill="#231f20" textLength="13.61" lengthAdjust="spacingAndGlyphs">10</text>
<line x1="612.34" y1="270.5" x2="612.34" y2="276.3" stroke="#231f20" stroke-width="1"/>
<text x="605.33" y="287.10" font-size="11.80" fill="#231f20" textLength="14.21" lengthAdjust="spacingAndGlyphs">15</text>
<line x1="644.72" y1="270.5" x2="644.72" y2="276.3" stroke="#231f20" stroke-width="1"/>
<text x="637.38" y="287.10" font-size="11.80" fill="#231f20" textLength="13.81" lengthAdjust="spacingAndGlyphs">20</text>
<line x1="677.1" y1="270.5" x2="677.1" y2="276.3" stroke="#231f20" stroke-width="1"/>
<text x="669.91" y="287.10" font-size="11.80" fill="#231f20" textLength="13.09" lengthAdjust="spacingAndGlyphs">25</text>
<text x="522.97" y="299.90" font-size="10.80" fill="#231f20" textLength="146.56" lengthAdjust="spacingAndGlyphs">Days post tumor implantation</text>
<text transform="translate(480.50,245.00) rotate(-90)" x="-0.26" y="0" font-size="10.40" fill="#231f20" textLength="96.59" lengthAdjust="spacingAndGlyphs">Tumor Area (mm²)</text>
<path d="M515.20,270.30 L541.10,230.90 L560.53,245.94 L586.44,245.16 L605.86,216.32 L631.77,203.17 L651.20,170.31" fill="none" stroke="#231f20" stroke-width="1.0" stroke-dasharray="2,2"/>
<line x1="541.10" y1="223.00" x2="541.10" y2="238.81" stroke="#231f20" stroke-width="1.0" stroke-dasharray="2,2"/>
<line x1="537.60" y1="223.00" x2="544.60" y2="223.00" stroke="#231f20" stroke-width="1.0"/>
<line x1="537.60" y1="238.81" x2="544.60" y2="238.81" stroke="#231f20" stroke-width="1.0"/>
<line x1="560.53" y1="242.82" x2="560.53" y2="249.05" stroke="#231f20" stroke-width="1.0" stroke-dasharray="2,2"/>
<line x1="557.03" y1="242.82" x2="564.03" y2="242.82" stroke="#231f20" stroke-width="1.0"/>
<line x1="557.03" y1="249.05" x2="564.03" y2="249.05" stroke="#231f20" stroke-width="1.0"/>
<line x1="586.44" y1="237.12" x2="586.44" y2="253.19" stroke="#231f20" stroke-width="1.0" stroke-dasharray="2,2"/>
<line x1="582.94" y1="237.12" x2="589.94" y2="237.12" stroke="#231f20" stroke-width="1.0"/>
<line x1="582.94" y1="253.19" x2="589.94" y2="253.19" stroke="#231f20" stroke-width="1.0"/>
<line x1="605.86" y1="203.69" x2="605.86" y2="228.96" stroke="#231f20" stroke-width="1.0" stroke-dasharray="2,2"/>
<line x1="602.36" y1="203.69" x2="609.36" y2="203.69" stroke="#231f20" stroke-width="1.0"/>
<line x1="602.36" y1="228.96" x2="609.36" y2="228.96" stroke="#231f20" stroke-width="1.0"/>
<line x1="631.77" y1="185.35" x2="631.77" y2="220.99" stroke="#231f20" stroke-width="1.0" stroke-dasharray="2,2"/>
<line x1="628.27" y1="185.35" x2="635.27" y2="185.35" stroke="#231f20" stroke-width="1.0"/>
<line x1="628.27" y1="220.99" x2="635.27" y2="220.99" stroke="#231f20" stroke-width="1.0"/>
<line x1="651.20" y1="139.60" x2="651.20" y2="201.03" stroke="#231f20" stroke-width="1.0" stroke-dasharray="2,2"/>
<line x1="647.70" y1="139.60" x2="654.70" y2="139.60" stroke="#231f20" stroke-width="1.0"/>
<line x1="647.70" y1="201.03" x2="654.70" y2="201.03" stroke="#231f20" stroke-width="1.0"/>
<path d="M515.20,270.30 L541.10,256.37 L560.53,259.87 L586.44,259.48 L605.86,257.21 L631.77,246.00 L651.20,220.92" fill="none" stroke="#231f20" stroke-width="1.0"/>
<line x1="541.10" y1="254.10" x2="541.10" y2="258.64" stroke="#231f20" stroke-width="1.0"/>
<line x1="537.60" y1="254.10" x2="544.60" y2="254.10" stroke="#231f20" stroke-width="1.0"/>
<line x1="537.60" y1="258.64" x2="544.60" y2="258.64" stroke="#231f20" stroke-width="1.0"/>
<line x1="560.53" y1="256.95" x2="560.53" y2="262.78" stroke="#231f20" stroke-width="1.0"/>
<line x1="557.03" y1="256.95" x2="564.03" y2="256.95" stroke="#231f20" stroke-width="1.0"/>
<line x1="557.03" y1="262.78" x2="564.03" y2="262.78" stroke="#231f20" stroke-width="1.0"/>
<line x1="586.44" y1="252.67" x2="586.44" y2="266.28" stroke="#231f20" stroke-width="1.0"/>
<line x1="582.94" y1="252.67" x2="589.94" y2="252.67" stroke="#231f20" stroke-width="1.0"/>
<line x1="582.94" y1="266.28" x2="589.94" y2="266.28" stroke="#231f20" stroke-width="1.0"/>
<line x1="605.86" y1="250.41" x2="605.86" y2="264.01" stroke="#231f20" stroke-width="1.0"/>
<line x1="602.36" y1="250.41" x2="609.36" y2="250.41" stroke="#231f20" stroke-width="1.0"/>
<line x1="602.36" y1="264.01" x2="609.36" y2="264.01" stroke="#231f20" stroke-width="1.0"/>
<line x1="631.77" y1="233.69" x2="631.77" y2="258.31" stroke="#231f20" stroke-width="1.0"/>
<line x1="628.27" y1="233.69" x2="635.27" y2="233.69" stroke="#231f20" stroke-width="1.0"/>
<line x1="628.27" y1="258.31" x2="635.27" y2="258.31" stroke="#231f20" stroke-width="1.0"/>
<line x1="651.20" y1="191.11" x2="651.20" y2="250.73" stroke="#231f20" stroke-width="1.0"/>
<line x1="647.70" y1="191.11" x2="654.70" y2="191.11" stroke="#231f20" stroke-width="1.0"/>
<line x1="647.70" y1="250.73" x2="654.70" y2="250.73" stroke="#231f20" stroke-width="1.0"/>
<path d="M515.20,270.30 L541.10,255.20 L560.53,262.01 L586.44,265.12 L605.86,268.42 L631.77,269.33 L651.20,268.68" fill="none" stroke="#ff2a00" stroke-width="1.0"/>
<line x1="541.10" y1="252.29" x2="541.10" y2="258.12" stroke="#ff2a00" stroke-width="1.0"/>
<line x1="537.60" y1="252.29" x2="544.60" y2="252.29" stroke="#ff2a00" stroke-width="1.0"/>
<line x1="537.60" y1="258.12" x2="544.60" y2="258.12" stroke="#ff2a00" stroke-width="1.0"/>
<line x1="560.53" y1="260.06" x2="560.53" y2="263.95" stroke="#ff2a00" stroke-width="1.0"/>
<line x1="557.03" y1="260.06" x2="564.03" y2="260.06" stroke="#ff2a00" stroke-width="1.0"/>
<line x1="557.03" y1="263.95" x2="564.03" y2="263.95" stroke="#ff2a00" stroke-width="1.0"/>
<line x1="586.44" y1="263.30" x2="586.44" y2="266.93" stroke="#ff2a00" stroke-width="1.0"/>
<line x1="582.94" y1="263.30" x2="589.94" y2="263.30" stroke="#ff2a00" stroke-width="1.0"/>
<line x1="582.94" y1="266.93" x2="589.94" y2="266.93" stroke="#ff2a00" stroke-width="1.0"/>
<line x1="605.86" y1="267.45" x2="605.86" y2="269.39" stroke="#ff2a00" stroke-width="1.0"/>
<line x1="602.36" y1="267.45" x2="609.36" y2="267.45" stroke="#ff2a00" stroke-width="1.0"/>
<line x1="602.36" y1="269.39" x2="609.36" y2="269.39" stroke="#ff2a00" stroke-width="1.0"/>
<line x1="631.77" y1="268.94" x2="631.77" y2="269.72" stroke="#ff2a00" stroke-width="1.0"/>
<line x1="628.27" y1="268.94" x2="635.27" y2="268.94" stroke="#ff2a00" stroke-width="1.0"/>
<line x1="628.27" y1="269.72" x2="635.27" y2="269.72" stroke="#ff2a00" stroke-width="1.0"/>
<line x1="651.20" y1="266.74" x2="651.20" y2="270.62" stroke="#ff2a00" stroke-width="1.0"/>
<line x1="647.70" y1="266.74" x2="654.70" y2="266.74" stroke="#ff2a00" stroke-width="1.0"/>
<line x1="647.70" y1="270.62" x2="654.70" y2="270.62" stroke="#ff2a00" stroke-width="1.0"/>
<line x1="519.2" y1="102.8" x2="529.1" y2="102.8" stroke="#111" stroke-width="1.5" stroke-dasharray="1.8,1.6"/>
<line x1="519.2" y1="115.0" x2="529.1" y2="115.0" stroke="#111" stroke-width="1.5"/>
<line x1="519.2" y1="127.3" x2="529.1" y2="127.3" stroke="#ed1c24" stroke-width="1.1"/>
<text x="532.21" y="105.80" font-size="10.20" fill="#231f20" textLength="24.18" lengthAdjust="spacingAndGlyphs">eGFP</text>
<text x="532.15" y="118.90" font-size="10.20" fill="#231f20" textLength="20.27" lengthAdjust="spacingAndGlyphs">OVA</text>
<text x="532.18" y="130.90" font-size="10.20" fill="#ed1c24" textLength="58.34" lengthAdjust="spacingAndGlyphs">αIFNαR OVA</text>
<path d="M591.7,101.4 L595.3,101.4 L595.3,113.6 L591.7,113.6" stroke="#231f20" stroke-width="1" fill="none"/>
<path d="M591.2,116.3 L595.3,116.3 L595.3,128.7 L591.2,128.7" stroke="#231f20" stroke-width="1" fill="none"/>
<path d="M632.0,101.0 L635.8,101.0 L635.8,128.7 L632.0,128.7" stroke="#231f20" stroke-width="1" fill="none"/>
<text x="596.50" y="111.90" font-size="10.00" fill="#231f20" textLength="37.20" lengthAdjust="spacingAndGlyphs">&lt;0.0001</text>
<text x="602.40" y="125.00" font-size="10.00" fill="#231f20" textLength="31.31" lengthAdjust="spacingAndGlyphs">0.0412</text>
<text x="636.29" y="115.10" font-size="10.00" fill="#231f20" textLength="37.51" lengthAdjust="spacingAndGlyphs">&lt;0.0001</text>
</svg>
</body></html>
